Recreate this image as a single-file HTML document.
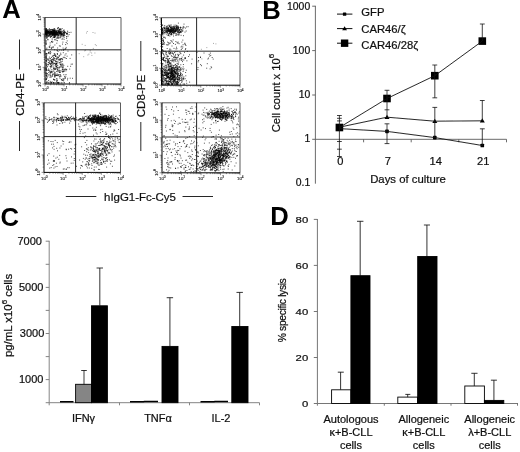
<!DOCTYPE html>
<html><head><meta charset="utf-8"><title>Figure</title>
<style>html,body{margin:0;padding:0;background:#fff;}svg{display:block;}</style></head>
<body>
<svg width="520" height="452" viewBox="0 0 520 452" font-family="'Liberation Sans', sans-serif">
<defs><filter id="soft" x="0" y="0" width="520" height="452" filterUnits="userSpaceOnUse"><feGaussianBlur stdDeviation="0.45"/></filter><filter id="soft2" x="0" y="0" width="520" height="452" filterUnits="userSpaceOnUse"><feGaussianBlur stdDeviation="0.22"/></filter></defs>
<rect width="520" height="452" fill="#fff"/>
<style>text{stroke:#111;stroke-width:0.22px;}text.pl{stroke:none;}text.tk{stroke-width:0.1px;}</style>
<g filter="url(#soft2)"><g stroke="#5a5a5a" stroke-width="0.9" fill="none">
<path d="M315.4 5.8V183.7"/>
<path d="M315.4 6.2h-3.2M315.4 50.6h-3.2M315.4 95.0h-3.2M315.4 139.3h-3.2"/>
<path d="M315.4 139.3H506.5"/>
<path d="M363.6 139.3v3M411.2 139.3v3M458.8 139.3v3M506.5 139.3v3"/>
</g>
<g stroke="#777" stroke-width="0.9" fill="none">
<path d="M49.2 240.8V402.7H259.5"/>
<path d="M49.2 402.7h-3.5M49.2 379.6h-3.5M49.2 356.6h-3.5M49.2 333.5h-3.5M49.2 310.4h-3.5M49.2 287.4h-3.5M49.2 264.3h-3.5M49.2 241.2h-3.5M49.2 402.7v2.6M119.5 402.7v2.6M189.5 402.7v2.6M259.5 402.7v2.6"/>
</g>
<g stroke="#666" stroke-width="0.9" fill="none">
<path d="M317.4 219.0V403.5H518"/>
<path d="M317.4 403.5h-3.6M317.4 357.5h-3.6M317.4 311.5h-3.6M317.4 265.4h-3.6M317.4 219.4h-3.6M317.4 403.5v2.2M384.3 403.5v2.2M451.0 403.5v2.2M517.5 403.5v2.2"/>
</g></g>
<g filter="url(#soft)">
<path d="M54.0 31.8h1.0M55.9 31.5h1.0M52.2 32.9h1.0M48.2 30.9h1.0M51.0 34.2h1.0M47.6 32.8h1.0M54.4 33.5h1.0M62.7 32.6h1.0M50.8 31.5h1.0M50.0 31.1h1.0M57.2 32.5h1.0M56.3 31.9h1.0M54.7 33.5h1.0M48.0 33.0h1.0M53.8 30.3h1.0M58.5 33.1h1.0M45.6 30.3h1.0M51.0 31.8h1.0M45.6 32.4h1.0M45.6 28.8h1.0M45.6 33.2h1.0M52.5 33.3h1.0M45.8 32.7h1.0M55.8 32.2h1.0M55.0 32.3h1.0M52.8 31.0h1.0M45.6 32.5h1.0M50.5 31.9h1.0M53.7 33.2h1.0M54.7 30.6h1.0M45.6 33.5h1.0M50.9 33.3h1.0M47.6 32.7h1.0M48.7 32.1h1.0M60.9 34.1h1.0M48.8 29.7h1.0M53.8 33.9h1.0M59.7 33.5h1.0M50.2 33.6h1.0M53.3 33.8h1.0M54.7 31.7h1.0M54.4 32.5h1.0M46.0 34.3h1.0M54.5 33.9h1.0M62.8 33.4h1.0M45.6 30.0h1.0M59.6 34.1h1.0M54.8 35.3h1.0M49.8 35.0h1.0M67.0 33.5h1.0M59.0 29.9h1.0M46.2 34.9h1.0M54.5 32.7h1.0M57.7 27.9h1.0M52.8 33.8h1.0M58.4 30.0h1.0M53.6 30.4h1.0M58.3 31.7h1.0M63.4 35.5h1.0M49.6 32.3h1.0M55.3 33.5h1.0M51.0 36.5h1.0M54.8 36.2h1.0M46.3 32.8h1.0M50.2 32.5h1.0M52.7 30.5h1.0M59.8 31.6h1.0M61.4 33.9h1.0M45.6 33.8h1.0M48.8 33.2h1.0M58.2 35.0h1.0M45.6 31.5h1.0M51.0 32.9h1.0M53.4 34.5h1.0M62.2 34.2h1.0M58.5 35.1h1.0M51.9 33.8h1.0M51.6 32.4h1.0M52.4 33.7h1.0M63.9 31.0h1.0M51.2 29.7h1.0M52.0 34.2h1.0M56.3 32.9h1.0M53.2 33.6h1.0M52.7 29.6h1.0M46.8 32.3h1.0M53.9 31.8h1.0M51.1 31.3h1.0M61.6 28.5h1.0M58.2 32.3h1.0M53.8 34.8h1.0M58.3 33.8h1.0M51.8 31.8h1.0M60.8 33.0h1.0M54.0 34.5h1.0M57.8 27.5h1.0M45.6 32.8h1.0M56.3 34.1h1.0M45.6 34.4h1.0M45.6 36.4h1.0M52.0 35.3h1.0M48.2 33.6h1.0M55.1 33.6h1.0M68.6 34.6h1.0M48.6 31.9h1.0M49.9 32.9h1.0M55.3 34.8h1.0M57.2 36.9h1.0M52.9 32.7h1.0M52.7 32.9h1.0M58.6 33.4h1.0M57.4 35.7h1.0M47.3 32.9h1.0M53.5 35.9h1.0M54.2 31.1h1.0M47.1 32.6h1.0M55.7 32.6h1.0M48.4 34.6h1.0M60.3 35.1h1.0M55.3 30.0h1.0M54.6 31.2h1.0M50.2 33.7h1.0M53.2 31.7h1.0M45.6 30.0h1.0M46.6 35.1h1.0M56.4 34.0h1.0M45.6 34.0h1.0M59.5 32.0h1.0M45.6 35.1h1.0M58.9 32.5h1.0M48.5 35.2h1.0M59.1 31.2h1.0M54.9 31.3h1.0M45.6 33.4h1.0M62.1 31.6h1.0M63.4 34.4h1.0M53.6 33.5h1.0M52.2 31.2h1.0M53.0 33.1h1.0M47.7 32.3h1.0M61.1 34.8h1.0M50.5 31.7h1.0M53.7 32.1h1.0M48.8 35.4h1.0M49.9 37.5h1.0M45.7 37.0h1.0M62.2 33.1h1.0M53.0 33.4h1.0M60.3 36.1h1.0M54.1 32.8h1.0M49.5 31.0h1.0M51.9 33.2h1.0M50.4 33.9h1.0M54.1 31.3h1.0M51.6 29.7h1.0M52.1 30.1h1.0M45.6 34.3h1.0M48.8 31.5h1.0M64.8 32.7h1.0M49.6 33.4h1.0M47.1 34.2h1.0M56.2 32.3h1.0M63.1 34.0h1.0M45.6 31.2h1.0M52.6 32.3h1.0M49.9 31.0h1.0M45.6 35.3h1.0M58.8 32.9h1.0M53.8 31.5h1.0M54.5 32.3h1.0M49.1 32.6h1.0M57.0 34.4h1.0M50.5 29.8h1.0M53.1 30.9h1.0M46.8 32.2h1.0M46.1 38.1h1.0M62.7 34.9h1.0M50.7 32.8h1.0M55.9 34.4h1.0M53.8 37.1h1.0M51.1 32.5h1.0M50.7 32.3h1.0M58.1 35.4h1.0M52.0 34.0h1.0M53.0 34.3h1.0M54.1 32.0h1.0M61.6 36.8h1.0M58.4 36.4h1.0M56.5 34.1h1.0M50.3 34.4h1.0M45.6 28.9h1.0M60.2 34.3h1.0M60.3 32.6h1.0M53.1 33.9h1.0M57.5 34.4h1.0M59.1 32.3h1.0M59.4 29.6h1.0M60.0 33.7h1.0M51.0 31.5h1.0M63.8 32.3h1.0M45.9 31.8h1.0M59.6 32.3h1.0M57.2 28.4h1.0M59.7 35.4h1.0M66.2 33.5h1.0M63.6 35.2h1.0M46.6 37.0h1.0M45.6 33.0h1.0M59.3 29.4h1.0M47.4 31.2h1.0M53.9 30.6h1.0M59.5 32.0h1.0M45.6 33.2h1.0M45.6 29.0h1.0M55.7 33.7h1.0M54.3 30.0h1.0M52.4 33.6h1.0M54.3 32.8h1.0M48.4 32.4h1.0M45.6 32.9h1.0M52.9 31.9h1.0M47.7 31.8h1.0M45.6 29.6h1.0M57.3 32.9h1.0M53.6 36.7h1.0M56.6 37.0h1.0M47.6 35.6h1.0M49.7 34.4h1.0M47.5 31.6h1.0M48.2 35.9h1.0M55.3 32.9h1.0M48.9 32.9h1.0M56.3 32.4h1.0M56.2 33.2h1.0M67.2 32.1h1.0M45.6 32.8h1.0M59.8 30.8h1.0M53.4 32.3h1.0M53.9 37.6h1.0M45.6 32.9h1.0M51.0 32.5h1.0M58.8 34.1h1.0M53.5 34.4h1.0M54.5 30.8h1.0M52.1 32.6h1.0M61.5 34.8h1.0M53.9 33.5h1.0M45.6 33.2h1.0M49.5 36.1h1.0M45.6 31.6h1.0M45.6 33.2h1.0M50.6 32.0h1.0M62.7 36.0h1.0M54.3 29.1h1.0M46.4 31.7h1.0M47.9 31.9h1.0M61.3 34.3h1.0M55.0 34.2h1.0M54.3 35.8h1.0M53.7 29.9h1.0M54.2 34.5h1.0M59.2 32.4h1.0M57.6 31.7h1.0M55.4 34.1h1.0M47.2 31.2h1.0M57.3 28.8h1.0M49.6 32.3h1.0M61.1 30.0h1.0M45.7 31.7h1.0M53.1 33.7h1.0M54.0 33.6h1.0M45.6 36.2h1.0M65.2 32.6h1.0M63.5 29.9h1.0M51.0 31.5h1.0M59.0 31.2h1.0M56.5 30.6h1.0M45.6 33.9h1.0M55.6 31.7h1.0M53.6 29.0h1.0M54.5 34.4h1.0M47.0 32.8h1.0M52.2 33.7h1.0M52.8 33.2h1.0M61.7 34.3h1.0M56.2 33.1h1.0M54.0 35.5h1.0M63.9 33.8h1.0M50.4 33.8h1.0M51.5 33.8h1.0M45.6 30.1h1.0M64.2 32.7h1.0M60.3 32.5h1.0M60.0 33.4h1.0M58.3 30.3h1.0M54.7 36.3h1.0M55.4 33.2h1.0M52.4 30.6h1.0M52.7 29.6h1.0M54.4 32.4h1.0M63.8 32.8h1.0M57.6 31.6h1.0M53.6 33.2h1.0M50.2 31.7h1.0M49.9 34.1h1.0M64.4 31.6h1.0M57.3 32.9h1.0M54.4 35.0h1.0M51.7 38.1h1.0M46.8 31.0h1.0M53.6 32.1h1.0M59.7 31.3h1.0M51.4 34.6h1.0M52.5 30.7h1.0M52.6 32.0h1.0M54.7 32.9h1.0M45.6 31.0h1.0M52.5 31.1h1.0M48.4 32.0h1.0M59.7 28.8h1.0M49.0 30.1h1.0M57.8 32.2h1.0M63.9 33.3h1.0M52.0 32.6h1.0M50.1 29.5h1.0M55.2 32.1h1.0M54.0 34.6h1.0M47.5 34.1h1.0M57.0 32.8h1.0M67.1 31.2h1.0M52.3 34.3h1.0M52.7 31.8h1.0M47.2 30.7h1.0M56.1 31.4h1.0M45.9 35.9h1.0M46.8 33.4h1.0M62.3 35.3h1.0M48.1 32.0h1.0M61.0 34.9h1.0M63.9 31.8h1.0M55.7 32.7h1.0M57.6 38.0h1.0M66.7 34.5h1.0M52.7 32.0h1.0M50.1 32.8h1.0M45.6 33.7h1.0M54.3 35.4h1.0M63.6 32.0h1.0M60.2 29.5h1.0M47.9 32.4h1.0M48.4 33.0h1.0M50.7 33.2h1.0M55.9 35.6h1.0M52.7 33.6h1.0M55.4 34.6h1.0M55.9 30.8h1.0M52.1 34.7h1.0M53.7 37.2h1.0M55.3 34.5h1.0M53.5 33.5h1.0M57.3 33.3h1.0M66.2 36.6h1.0M57.8 31.1h1.0M54.4 32.8h1.0M45.6 33.9h1.0M56.5 34.5h1.0M45.6 32.1h1.0M45.6 33.6h1.0M59.6 32.4h1.0M58.6 33.2h1.0M53.0 32.7h1.0M45.6 30.7h1.0M51.6 33.0h1.0M49.6 34.8h1.0M58.1 31.1h1.0M68.7 32.5h1.0M55.4 34.3h1.0M48.9 30.9h1.0M46.4 33.4h1.0M53.6 30.9h1.0M52.9 35.3h1.0M46.5 37.6h1.0M54.8 37.0h1.0M46.5 32.6h1.0M61.2 34.5h1.0M60.9 33.2h1.0M61.1 33.2h1.0M50.9 36.1h1.0M57.3 30.4h1.0M53.1 35.1h1.0M51.5 32.9h1.0M51.8 35.8h1.0M45.6 33.4h1.0M45.6 31.7h1.0M59.2 33.6h1.0M52.8 34.5h1.0M55.4 33.1h1.0M60.5 34.0h1.0M45.6 32.0h1.0M48.9 28.7h1.0M55.1 34.8h1.0M56.5 34.4h1.0M51.5 33.3h1.0M60.7 33.1h1.0M55.4 35.1h1.0M46.1 32.1h1.0M48.0 31.6h1.0M59.2 32.6h1.0M57.0 35.4h1.0M45.6 30.2h1.0M62.8 35.4h1.0M57.9 31.7h1.0M62.7 30.8h1.0M51.5 35.5h1.0M52.1 32.8h1.0M46.7 30.4h1.0M70.5 32.3h1.0M52.9 34.9h1.0M64.3 35.4h1.0M49.8 32.1h1.0M55.1 33.8h1.0M45.6 34.4h1.0M51.5 31.7h1.0M60.4 33.7h1.0M45.9 32.9h1.0M61.0 31.9h1.0M56.2 32.0h1.0M47.2 33.1h1.0M50.7 33.1h1.0M51.0 31.9h1.0M53.7 32.1h1.0M50.5 35.2h1.0M48.6 33.4h1.0M52.0 34.8h1.0M47.3 35.4h1.0M45.6 34.2h1.0M53.7 37.5h1.0M59.7 31.3h1.0M45.6 34.6h1.0M54.0 32.4h1.0M49.8 36.7h1.0M47.6 36.4h1.0M59.5 29.1h1.0M50.6 31.1h1.0M63.7 34.3h1.0M48.9 34.6h1.0M56.5 34.5h1.0M52.5 32.9h1.0M49.1 33.9h1.0M57.8 34.3h1.0M53.0 32.8h1.0M57.9 35.1h1.0M53.7 28.5h1.0M46.9 34.3h1.0M53.3 30.9h1.0M54.3 34.9h1.0M60.2 32.5h1.0M48.1 31.2h1.0M53.7 33.7h1.0M45.6 31.2h1.0M58.2 31.2h1.0M47.0 29.9h1.0M45.6 32.9h1.0M53.6 34.0h1.0M61.2 35.0h1.0M45.6 32.7h1.0M46.9 35.1h1.0M49.2 33.0h1.0M46.7 32.8h1.0M56.5 34.1h1.0M48.8 35.1h1.0M49.3 32.3h1.0M57.8 32.5h1.0M49.1 32.7h1.0M56.8 33.2h1.0M47.7 31.2h1.0M46.1 35.1h1.0M45.6 32.2h1.0M66.1 33.9h1.0M51.9 31.3h1.0M55.6 33.7h1.0M53.8 33.8h1.0M55.0 32.2h1.0M54.3 37.0h1.0M66.4 33.7h1.0M47.2 36.6h1.0M45.6 34.9h1.0M47.4 31.7h1.0M45.6 32.2h1.0M58.9 33.9h1.0M59.3 33.1h1.0M47.8 33.1h1.0M45.6 32.4h1.0M51.7 29.4h1.0M63.0 32.5h1.0M45.6 28.6h1.0M57.4 33.7h1.0M47.0 31.5h1.0M60.8 31.6h1.0M47.0 32.6h1.0M52.1 33.5h1.0M45.6 30.1h1.0M47.6 29.5h1.0M63.0 30.9h1.0M59.3 28.9h1.0M51.4 31.1h1.0M48.3 36.2h1.0M45.6 30.9h1.0M51.4 34.3h1.0M53.8 30.3h1.0M53.5 33.6h1.0M53.4 32.4h1.0M46.7 32.9h1.0M53.6 34.1h1.0M53.7 36.5h1.0M62.4 33.4h1.0M66.1 33.2h1.0M53.1 31.1h1.0M49.0 34.2h1.0M53.6 32.5h1.0M60.0 64.7h1.0M54.7 76.0h1.0M65.4 70.9h1.0M45.6 70.8h1.0M53.2 74.1h1.0M60.3 62.2h1.0M52.9 64.0h1.0M53.4 63.6h1.0M46.7 53.8h1.0M55.7 66.6h1.0M69.6 58.4h1.0M61.9 69.0h1.0M48.3 72.5h1.0M49.8 53.8h1.0M52.6 59.9h1.0M61.0 58.6h1.0M50.1 75.5h1.0M50.9 82.9h1.0M60.3 76.5h1.0M60.2 64.5h1.0M52.8 82.7h1.0M48.3 52.9h1.0M45.7 82.9h1.0M50.8 61.4h1.0M59.5 82.9h1.0M51.2 82.9h1.0M57.9 57.7h1.0M66.2 69.7h1.0M62.0 65.9h1.0M48.1 69.0h1.0M60.2 53.2h1.0M61.9 61.2h1.0M50.5 72.7h1.0M49.3 70.2h1.0M54.3 80.0h1.0M45.6 68.8h1.0M63.8 82.9h1.0M45.6 60.8h1.0M48.4 70.6h1.0M53.6 55.5h1.0M56.0 81.3h1.0M56.6 58.6h1.0M53.7 73.3h1.0M61.8 67.4h1.0M45.6 57.6h1.0M55.0 64.5h1.0M50.7 62.9h1.0M55.8 63.1h1.0M56.3 75.5h1.0M49.5 74.5h1.0M51.2 62.2h1.0M59.8 58.9h1.0M57.1 70.8h1.0M50.9 67.0h1.0M67.2 78.3h1.0M68.9 82.9h1.0M46.2 76.4h1.0M56.8 67.7h1.0M70.1 66.3h1.0M59.7 59.4h1.0M56.3 58.9h1.0M53.8 58.0h1.0M51.8 64.0h1.0M53.7 63.7h1.0M51.7 75.4h1.0M59.5 64.0h1.0M52.6 66.0h1.0M52.4 55.8h1.0M47.8 82.9h1.0M54.7 73.1h1.0M49.6 82.9h1.0M53.9 76.0h1.0M61.3 82.9h1.0M57.2 65.5h1.0M58.0 75.2h1.0M57.1 82.9h1.0M55.4 55.8h1.0M54.2 79.8h1.0M53.2 82.9h1.0M59.6 72.2h1.0M48.5 75.7h1.0M63.0 80.8h1.0M55.2 61.3h1.0M50.5 72.2h1.0M52.1 59.1h1.0M50.9 61.1h1.0M56.0 61.7h1.0M50.7 66.5h1.0M61.9 69.5h1.0M50.3 72.6h1.0M45.6 53.5h1.0M50.6 82.9h1.0M45.6 79.8h1.0M54.8 75.4h1.0M61.4 64.3h1.0M58.9 67.1h1.0M47.0 73.6h1.0M50.4 72.2h1.0M56.9 75.6h1.0M55.0 82.9h1.0M69.7 78.2h1.0M62.8 71.8h1.0M55.8 66.9h1.0M57.1 82.1h1.0M58.7 55.9h1.0M51.3 69.7h1.0M48.6 82.9h1.0M55.3 66.0h1.0M49.3 63.7h1.0M54.6 69.2h1.0M55.6 63.4h1.0M69.0 82.9h1.0M49.9 58.7h1.0M54.3 77.0h1.0M54.0 55.1h1.0M57.6 74.9h1.0M61.3 66.9h1.0M50.1 67.9h1.0M45.6 57.0h1.0M49.4 63.4h1.0M58.2 82.9h1.0M55.3 56.5h1.0M48.9 57.1h1.0M52.8 82.8h1.0M55.2 69.2h1.0M58.0 82.9h1.0M51.4 71.3h1.0M53.5 58.9h1.0M45.6 67.3h1.0M48.1 80.6h1.0M64.7 77.7h1.0M45.6 68.0h1.0M53.0 68.5h1.0M56.3 66.8h1.0M52.8 62.1h1.0M50.2 82.9h1.0M54.6 68.1h1.0M55.0 56.4h1.0M54.5 63.1h1.0M45.6 75.5h1.0M54.1 74.6h1.0M49.9 66.6h1.0M51.7 61.1h1.0M56.4 68.2h1.0M60.4 54.6h1.0M52.0 76.2h1.0M60.5 63.1h1.0M62.0 71.9h1.0M61.8 80.5h1.0M63.3 74.7h1.0M54.1 68.2h1.0M54.0 82.9h1.0M60.0 74.9h1.0M46.8 64.4h1.0M56.3 75.5h1.0M51.8 72.2h1.0M52.8 59.2h1.0M45.6 68.8h1.0M49.7 66.3h1.0M60.3 66.2h1.0M60.9 65.1h1.0M54.5 63.5h1.0M50.0 64.4h1.0M57.4 67.6h1.0M53.5 69.0h1.0M58.6 56.3h1.0M65.5 74.5h1.0M54.8 55.5h1.0M46.0 65.7h1.0M49.8 81.4h1.0M46.3 60.9h1.0M47.8 62.7h1.0M62.8 79.0h1.0M56.4 64.1h1.0M45.9 64.9h1.0M58.9 70.3h1.0M62.6 78.8h1.0M50.9 59.5h1.0M53.0 57.7h1.0M56.7 56.9h1.0M58.8 59.2h1.0M62.1 59.4h1.0M62.3 71.1h1.0M62.1 58.9h1.0M63.2 69.3h1.0M59.0 72.1h1.0M45.8 60.5h1.0M54.2 69.3h1.0M56.9 82.9h1.0M52.7 71.3h1.0M60.5 61.5h1.0M52.8 67.3h1.0M49.4 58.6h1.0M63.7 70.8h1.0M59.0 76.8h1.0M56.3 59.6h1.0M60.6 65.9h1.0M61.4 79.4h1.0M57.0 62.9h1.0M45.6 69.9h1.0M50.9 57.5h1.0M52.3 59.6h1.0M49.1 62.8h1.0M56.2 82.9h1.0M62.2 63.9h1.0M52.1 62.7h1.0M48.2 62.4h1.0M67.2 66.3h1.0M52.3 74.6h1.0M47.6 69.9h1.0M56.4 82.9h1.0M57.6 70.1h1.0M50.8 82.5h1.0M59.7 70.8h1.0M52.1 74.1h1.0M49.5 53.6h1.0M56.1 66.7h1.0M59.6 67.3h1.0M51.2 65.6h1.0M54.4 76.8h1.0M71.9 64.1h1.0M50.7 63.6h1.0M63.3 65.4h1.0M54.7 65.7h1.0M54.2 72.1h1.0M59.3 55.3h1.0M60.4 58.7h1.0M62.6 70.9h1.0M57.0 69.5h1.0M51.4 64.2h1.0M51.8 62.3h1.0M58.1 59.7h1.0M58.5 67.4h1.0M63.4 79.8h1.0M57.5 57.4h1.0M61.4 82.9h1.0M64.1 76.4h1.0M56.0 63.5h1.0M46.1 75.8h1.0M47.9 53.3h1.0M64.5 55.1h1.0M49.9 63.9h1.0M62.4 64.7h1.0M58.5 62.8h1.0M65.3 69.0h1.0M54.4 73.0h1.0M53.8 53.8h1.0M55.5 61.4h1.0M56.1 63.9h1.0M51.8 56.4h1.0M54.8 54.3h1.0M64.7 57.9h1.0M45.6 67.9h1.0M56.6 73.9h1.0M49.6 73.6h1.0M56.1 58.1h1.0M60.0 60.1h1.0M54.7 58.8h1.0M59.6 72.5h1.0M61.6 80.4h1.0M51.4 63.2h1.0M58.7 60.2h1.0M56.1 71.4h1.0M45.6 78.3h1.0M50.5 71.4h1.0M56.3 78.5h1.0M64.3 69.3h1.0M56.7 80.3h1.0M56.5 80.5h1.0M46.5 67.0h1.0M63.6 82.4h1.0M65.8 69.6h1.0M55.2 68.9h1.0M53.7 58.8h1.0M45.6 65.1h1.0M60.3 75.8h1.0M71.2 54.9h1.0M59.3 74.5h1.0M62.6 71.5h1.0M58.3 70.8h1.0M63.0 67.0h1.0M47.6 74.5h1.0M53.7 60.4h1.0M56.7 68.9h1.0M57.5 74.7h1.0M57.3 61.4h1.0M50.4 76.7h1.0M55.4 74.9h1.0M50.7 65.6h1.0M47.2 76.1h1.0M47.4 58.7h1.0M52.1 61.8h1.0M45.6 82.9h1.0M46.9 59.7h1.0M45.6 60.9h1.0M56.1 65.2h1.0M57.4 57.8h1.0M67.0 79.9h1.0M46.0 82.9h1.0M50.9 61.0h1.0M53.7 79.7h1.0M53.0 79.1h1.0M65.3 76.2h1.0M53.0 79.6h1.0M48.1 59.3h1.0M47.1 66.3h1.0M57.0 54.2h1.0M56.8 53.8h1.0M46.8 77.8h1.0M49.1 61.3h1.0M58.2 82.9h1.0M58.5 68.7h1.0M51.1 61.6h1.0M58.7 76.0h1.0M58.4 82.9h1.0M45.6 72.9h1.0M53.1 55.8h1.0M57.5 71.7h1.0M51.6 81.8h1.0M45.6 63.1h1.0M53.3 60.3h1.0M59.5 78.2h1.0M64.5 69.4h1.0M45.6 57.0h1.0M70.7 64.2h1.0M48.2 60.4h1.0M60.7 71.0h1.0M62.4 69.1h1.0M60.9 79.5h1.0M55.9 75.1h1.0M48.0 52.4h1.0M58.8 72.1h1.0M50.7 77.0h1.0M45.6 72.6h1.0M72.0 78.3h1.0M59.2 62.5h1.0M65.9 58.5h1.0M49.5 77.3h1.0M63.8 57.3h1.0M64.3 78.3h1.0M54.9 60.8h1.0M47.8 64.9h1.0M53.9 54.0h1.0M45.6 54.7h1.0M45.6 56.4h1.0M55.6 64.4h1.0M49.1 71.7h1.0M54.3 75.5h1.0M66.6 56.2h1.0M62.8 57.3h1.0M54.7 74.8h1.0M62.3 67.3h1.0M50.3 52.6h1.0M53.0 82.9h1.0M60.5 59.4h1.0M47.6 70.5h1.0M53.3 70.0h1.0M47.1 82.1h1.0M55.7 63.4h1.0M64.8 78.1h1.0M50.5 60.6h1.0M56.4 79.2h1.0M49.6 60.4h1.0M48.1 64.4h1.0M47.6 82.9h1.0M63.7 71.2h1.0M69.2 69.1h1.0M57.9 82.9h1.0M50.7 71.6h1.0M59.2 59.8h1.0M45.6 66.2h1.0M45.6 31.9h1.0M46.2 81.8h1.0M46.2 55.4h1.0M45.6 41.0h1.0M46.1 70.3h1.0M45.6 73.5h1.0M45.6 62.9h1.0M46.0 79.2h1.0M45.6 32.1h1.0M45.9 57.1h1.0M46.0 69.3h1.0M45.6 79.3h1.0M45.6 63.6h1.0M46.0 61.3h1.0M45.8 49.1h1.0M46.1 59.6h1.0M45.6 58.6h1.0M45.9 78.6h1.0M46.0 74.1h1.0M45.6 69.0h1.0M45.6 79.7h1.0M45.6 30.8h1.0M45.6 70.9h1.0M45.6 53.4h1.0M45.6 69.9h1.0M45.6 43.9h1.0M45.9 53.6h1.0M45.6 74.0h1.0M45.7 29.0h1.0M45.6 43.6h1.0M45.6 54.8h1.0M45.9 75.5h1.0M45.6 42.4h1.0M45.7 73.9h1.0M45.6 40.9h1.0M45.7 44.3h1.0M46.1 58.6h1.0M45.6 64.3h1.0M45.6 77.2h1.0M65.3 48.5h1.0M51.5 47.3h1.0M62.4 42.1h1.0M60.0 37.7h1.0M54.5 39.6h1.0M63.1 50.1h1.0M65.7 47.4h1.0M56.5 50.3h1.0M66.2 36.8h1.0M48.8 52.2h1.0M49.7 42.9h1.0M62.8 52.7h1.0M52.7 46.7h1.0M58.9 45.9h1.0M56.9 50.7h1.0M49.2 47.3h1.0M62.6 48.1h1.0M62.3 38.8h1.0M49.2 46.9h1.0M51.7 42.4h1.0M63.6 37.4h1.0M66.1 38.4h1.0M65.1 44.6h1.0M57.0 40.7h1.0M54.1 49.8h1.0M55.8 38.2h1.0M49.9 36.2h1.0M56.9 53.9h1.0M51.1 41.6h1.0M49.6 45.2h1.0M54.4 39.8h1.0M47.4 39.8h1.0M56.3 43.2h1.0M61.3 50.2h1.0M60.3 36.7h1.0M67.5 51.1h1.0M65.5 53.8h1.0M59.9 46.1h1.0M65.7 42.5h1.0M55.8 40.2h1.0M63.6 39.3h1.0M52.3 41.8h1.0M57.6 51.3h1.0M67.6 36.1h1.0M59.2 50.1h1.0M57.1 48.0h1.0M63.3 36.3h1.0M52.9 37.3h1.0M64.3 49.2h1.0M46.4 48.1h1.0M51.2 41.6h1.0M49.9 51.5h1.0M51.7 39.8h1.0M66.8 43.7h1.0M46.5 38.1h1.0M52.6 47.6h1.0M58.6 37.6h1.0M61.5 39.2h1.0M63.0 49.8h1.0M54.4 45.0h1.0M50.8 47.9h1.0M64.8 49.2h1.0M48.7 46.9h1.0M47.4 39.6h1.0M51.1 48.6h1.0M56.8 38.1h1.0M66.7 40.9h1.0M62.0 44.1h1.0M58.4 38.1h1.0M57.5 37.9h1.0" stroke="#000" stroke-opacity="0.68" stroke-width="1" fill="none"/>
<path d="M89.7 52.1h1.0M91.4 55.4h1.0M84.7 45.4h1.0M85.0 50.2h1.0M81.7 44.3h1.0M87.4 55.0h1.0M88.4 54.1h1.0M94.8 44.6h1.0M78.7 53.7h1.0M94.4 53.0h1.0M95.8 45.6h1.0M84.2 50.8h1.0M91.1 53.0h1.0M92.8 48.4h1.0M89.7 50.6h1.0M83.2 56.7h1.0M94.5 33.1h1.0M92.5 32.5h1.0M86.0 33.0h1.0M86.8 31.5h1.0" stroke="#000" stroke-opacity="0.35" stroke-width="1" fill="none"/>
<text class="tk" x="45.3" y="91.2" font-size="4.3" text-anchor="middle" fill="#111">10<tspan dy="-1.8" font-size="3.2">0</tspan></text>
<text class="tk" transform="translate(41.0 83.7) rotate(-90)" font-size="4.3" text-anchor="middle" fill="#111">10<tspan dy="-1.8" font-size="3.2">0</tspan></text>
<text class="tk" x="64.3" y="91.2" font-size="4.3" text-anchor="middle" fill="#111">10<tspan dy="-1.8" font-size="3.2">1</tspan></text>
<text class="tk" transform="translate(41.0 67.1) rotate(-90)" font-size="4.3" text-anchor="middle" fill="#111">10<tspan dy="-1.8" font-size="3.2">1</tspan></text>
<text class="tk" x="83.3" y="91.2" font-size="4.3" text-anchor="middle" fill="#111">10<tspan dy="-1.8" font-size="3.2">2</tspan></text>
<text class="tk" transform="translate(41.0 50.5) rotate(-90)" font-size="4.3" text-anchor="middle" fill="#111">10<tspan dy="-1.8" font-size="3.2">2</tspan></text>
<text class="tk" x="102.3" y="91.2" font-size="4.3" text-anchor="middle" fill="#111">10<tspan dy="-1.8" font-size="3.2">3</tspan></text>
<text class="tk" transform="translate(41.0 33.8) rotate(-90)" font-size="4.3" text-anchor="middle" fill="#111">10<tspan dy="-1.8" font-size="3.2">3</tspan></text>
<text class="tk" x="121.3" y="91.2" font-size="4.3" text-anchor="middle" fill="#111">10<tspan dy="-1.8" font-size="3.2">4</tspan></text>
<text class="tk" transform="translate(41.0 17.2) rotate(-90)" font-size="4.3" text-anchor="middle" fill="#111">10<tspan dy="-1.8" font-size="3.2">4</tspan></text>
<path d="M175.3 31.3h1.0M170.0 30.1h1.0M165.6 28.9h1.0M177.7 27.5h1.0M181.5 30.4h1.0M166.9 30.8h1.0M170.4 29.4h1.0M177.8 28.2h1.0M173.8 31.2h1.0M183.0 35.7h1.0M168.9 29.3h1.0M175.0 30.8h1.0M165.1 30.9h1.0M183.5 24.1h1.0M168.0 30.3h1.0M162.1 28.4h1.0M171.3 33.2h1.0M171.2 29.4h1.0M182.5 28.2h1.0M170.1 29.5h1.0M171.9 30.4h1.0M175.3 28.7h1.0M180.7 29.9h1.0M171.7 26.9h1.0M177.7 29.5h1.0M174.8 31.8h1.0M170.4 34.5h1.0M172.4 31.6h1.0M172.2 30.6h1.0M167.0 32.7h1.0M178.7 32.3h1.0M164.4 33.8h1.0M178.4 32.5h1.0M177.2 29.7h1.0M171.5 30.6h1.0M167.8 30.4h1.0M170.8 30.7h1.0M174.6 30.5h1.0M176.1 28.2h1.0M173.6 25.2h1.0M177.5 28.5h1.0M168.9 25.3h1.0M173.3 30.2h1.0M163.4 30.0h1.0M176.2 26.1h1.0M172.8 31.6h1.0M169.7 32.0h1.0M178.4 30.2h1.0M175.8 33.8h1.0M162.1 34.3h1.0M172.2 27.2h1.0M164.0 32.4h1.0M177.9 31.0h1.0M185.7 31.0h1.0M169.1 32.1h1.0M172.4 28.3h1.0M170.6 28.6h1.0M173.9 28.1h1.0M175.5 28.3h1.0M179.1 29.8h1.0M166.6 26.7h1.0M180.6 27.6h1.0M166.9 31.3h1.0M173.5 29.8h1.0M178.4 30.9h1.0M175.9 25.7h1.0M166.8 28.2h1.0M168.1 28.7h1.0M169.5 30.1h1.0M171.7 28.7h1.0M178.3 32.1h1.0M164.9 29.9h1.0M174.6 30.0h1.0M175.4 30.0h1.0M175.1 31.6h1.0M174.6 28.9h1.0M180.4 32.6h1.0M174.7 31.1h1.0M176.7 30.4h1.0M175.1 30.1h1.0M181.9 31.2h1.0M162.1 32.3h1.0M179.1 32.2h1.0M170.6 30.9h1.0M170.5 32.0h1.0M166.7 30.3h1.0M162.1 32.9h1.0M169.9 29.9h1.0M168.2 25.2h1.0M174.7 33.1h1.0M163.9 30.2h1.0M179.9 27.3h1.0M173.5 29.5h1.0M170.6 28.0h1.0M168.1 34.8h1.0M167.7 31.1h1.0M165.8 26.4h1.0M169.0 31.3h1.0M172.0 29.1h1.0M171.0 34.4h1.0M164.2 27.6h1.0M170.5 24.8h1.0M167.1 30.2h1.0M172.9 29.2h1.0M182.3 29.0h1.0M175.4 25.1h1.0M170.3 31.0h1.0M163.1 33.8h1.0M164.2 25.6h1.0M162.7 32.7h1.0M176.0 28.7h1.0M167.8 35.4h1.0M172.3 31.0h1.0M168.6 29.6h1.0M172.5 32.5h1.0M179.7 31.2h1.0M168.2 28.6h1.0M170.1 31.6h1.0M167.6 28.8h1.0M176.8 25.9h1.0M166.4 34.7h1.0M165.8 29.2h1.0M164.4 28.6h1.0M164.3 30.8h1.0M174.6 26.4h1.0M186.1 26.9h1.0M166.5 28.9h1.0M177.2 28.8h1.0M173.4 30.2h1.0M165.9 32.6h1.0M170.5 28.9h1.0M170.7 31.1h1.0M168.2 31.4h1.0M182.6 27.5h1.0M162.1 30.5h1.0M174.1 27.8h1.0M173.8 32.4h1.0M168.8 31.0h1.0M172.8 30.0h1.0M176.8 26.9h1.0M172.8 30.3h1.0M174.3 28.2h1.0M175.8 31.6h1.0M162.1 29.7h1.0M180.1 28.1h1.0M184.5 32.1h1.0M177.4 31.7h1.0M177.6 28.6h1.0M164.3 32.7h1.0M171.3 29.3h1.0M167.5 29.3h1.0M168.8 30.3h1.0M177.3 28.3h1.0M167.6 29.0h1.0M171.3 29.6h1.0M162.1 33.5h1.0M171.1 33.4h1.0M172.5 29.4h1.0M168.1 33.7h1.0M168.0 29.9h1.0M182.4 30.9h1.0M165.3 32.0h1.0M166.2 30.7h1.0M167.6 35.6h1.0M178.6 30.6h1.0M183.6 27.2h1.0M173.8 33.0h1.0M168.1 29.1h1.0M169.6 29.3h1.0M177.9 23.1h1.0M167.0 32.3h1.0M180.0 31.9h1.0M179.8 31.8h1.0M172.4 32.3h1.0M175.6 33.9h1.0M176.1 29.9h1.0M180.5 32.2h1.0M166.2 28.3h1.0M178.5 29.2h1.0M169.9 32.4h1.0M167.8 30.9h1.0M172.6 26.9h1.0M170.8 30.8h1.0M166.6 29.6h1.0M163.2 28.1h1.0M166.8 31.0h1.0M180.0 29.1h1.0M182.8 26.4h1.0M175.6 27.4h1.0M178.5 34.1h1.0M169.2 26.5h1.0M171.6 30.5h1.0M173.6 31.4h1.0M166.1 31.5h1.0M166.6 27.2h1.0M172.5 29.3h1.0M170.2 30.3h1.0M166.2 31.8h1.0M174.1 28.5h1.0M170.6 27.3h1.0M177.6 32.3h1.0M172.0 32.5h1.0M170.3 30.9h1.0M172.7 28.6h1.0M171.1 30.9h1.0M168.3 30.3h1.0M169.8 31.9h1.0M176.1 27.1h1.0M175.6 30.3h1.0M179.1 29.6h1.0M162.7 27.4h1.0M169.8 30.5h1.0M169.7 30.1h1.0M172.9 29.1h1.0M169.5 30.9h1.0M169.2 26.7h1.0M176.3 29.9h1.0M173.0 31.0h1.0M165.6 30.7h1.0M179.3 32.5h1.0M177.5 27.2h1.0M168.8 26.5h1.0M176.6 30.5h1.0M168.0 31.0h1.0M178.2 34.9h1.0M170.8 31.4h1.0M167.6 28.0h1.0M169.9 31.9h1.0M167.8 28.1h1.0M173.1 26.6h1.0M173.0 36.0h1.0M172.2 30.7h1.0M168.9 31.6h1.0M162.1 31.3h1.0M172.5 34.2h1.0M162.1 30.7h1.0M173.3 32.8h1.0M178.2 27.6h1.0M173.5 26.8h1.0M169.9 33.3h1.0M171.0 33.4h1.0M171.3 31.2h1.0M169.0 30.5h1.0M168.8 30.4h1.0M166.9 28.4h1.0M178.5 33.5h1.0M171.9 31.5h1.0M177.3 31.2h1.0M170.6 30.9h1.0M172.4 32.4h1.0M171.1 31.2h1.0M174.5 31.7h1.0M176.5 27.3h1.0M173.3 31.2h1.0M168.3 35.0h1.0M167.7 28.8h1.0M181.1 29.7h1.0M170.5 32.1h1.0M170.4 32.2h1.0M180.1 31.4h1.0M178.0 26.3h1.0M174.9 31.2h1.0M169.8 27.3h1.0M184.9 28.1h1.0M174.2 31.3h1.0M175.0 29.3h1.0M171.1 31.9h1.0M164.2 37.2h1.0M164.7 31.8h1.0M174.2 31.7h1.0M174.2 27.9h1.0M170.7 28.5h1.0M165.6 27.6h1.0M164.1 28.8h1.0M170.2 27.5h1.0M164.0 28.5h1.0M176.9 29.5h1.0M178.3 27.7h1.0M187.6 26.7h1.0M176.8 26.9h1.0M168.7 31.0h1.0M167.2 30.1h1.0M162.1 32.4h1.0M168.7 32.4h1.0M171.0 29.2h1.0M177.3 31.5h1.0M175.4 26.7h1.0M175.2 35.3h1.0M173.2 32.7h1.0M175.6 29.5h1.0M180.0 27.3h1.0M166.1 30.9h1.0M169.5 25.7h1.0M164.4 28.2h1.0M180.9 31.7h1.0M179.1 30.2h1.0M176.1 28.9h1.0M165.4 32.2h1.0M173.0 27.6h1.0M170.7 30.7h1.0M172.4 28.9h1.0M171.0 28.1h1.0M174.9 31.1h1.0M169.8 27.7h1.0M176.7 34.4h1.0M173.3 28.7h1.0M170.4 34.6h1.0M171.4 27.5h1.0M169.6 31.4h1.0M176.5 27.2h1.0M170.5 26.9h1.0M173.6 30.4h1.0M169.8 31.6h1.0M163.8 27.1h1.0M177.0 32.7h1.0M166.2 28.2h1.0M175.7 30.3h1.0M174.3 30.9h1.0M162.9 31.4h1.0M166.8 25.9h1.0M169.2 33.7h1.0M167.5 31.3h1.0M165.5 29.0h1.0M176.1 27.6h1.0M170.7 26.1h1.0M174.1 26.9h1.0M169.6 31.3h1.0M173.7 29.2h1.0M167.9 27.4h1.0M171.9 28.8h1.0M180.1 74.2h1.0M169.7 76.3h1.0M168.3 69.5h1.0M178.9 79.6h1.0M174.0 71.2h1.0M171.7 78.7h1.0M168.2 76.3h1.0M163.0 82.1h1.0M165.1 75.4h1.0M168.9 81.6h1.0M170.3 70.0h1.0M173.5 79.2h1.0M174.5 74.2h1.0M172.7 76.7h1.0M172.7 75.9h1.0M166.0 81.1h1.0M162.1 63.4h1.0M168.6 77.4h1.0M166.3 66.5h1.0M167.9 82.7h1.0M170.0 63.7h1.0M164.7 69.5h1.0M165.4 65.5h1.0M170.9 84.1h1.0M172.1 67.8h1.0M167.9 76.2h1.0M174.2 72.3h1.0M170.3 64.7h1.0M165.9 73.5h1.0M171.7 79.5h1.0M181.9 74.4h1.0M167.8 81.1h1.0M177.9 73.3h1.0M179.1 75.5h1.0M179.7 73.2h1.0M167.0 77.6h1.0M182.6 84.1h1.0M172.1 77.7h1.0M170.1 76.7h1.0M170.2 71.8h1.0M174.8 71.0h1.0M171.8 84.1h1.0M170.5 68.8h1.0M178.6 70.0h1.0M167.5 74.9h1.0M165.8 72.9h1.0M175.9 84.1h1.0M175.4 61.3h1.0M177.5 77.7h1.0M165.6 79.8h1.0M177.4 68.8h1.0M174.2 71.6h1.0M181.2 78.1h1.0M164.6 84.1h1.0M172.7 70.0h1.0M170.0 66.0h1.0M162.8 81.3h1.0M167.6 84.1h1.0M177.7 73.5h1.0M168.9 62.2h1.0M167.5 84.1h1.0M176.3 74.3h1.0M176.9 82.2h1.0M176.9 75.2h1.0M167.2 73.2h1.0M171.2 72.8h1.0M177.2 84.1h1.0M167.9 84.1h1.0M167.4 62.7h1.0M176.1 69.9h1.0M180.1 84.1h1.0M165.2 73.3h1.0M162.1 67.3h1.0M163.5 75.5h1.0M165.9 74.8h1.0M170.7 74.9h1.0M174.9 72.6h1.0M170.7 73.6h1.0M167.6 72.8h1.0M172.3 77.5h1.0M166.2 70.6h1.0M171.2 73.8h1.0M168.0 74.6h1.0M186.2 83.3h1.0M176.0 77.7h1.0M166.9 74.8h1.0M166.0 78.7h1.0M169.1 77.9h1.0M162.5 82.0h1.0M167.5 78.5h1.0M167.4 84.1h1.0M176.4 83.6h1.0M169.2 75.3h1.0M167.2 73.0h1.0M164.1 80.8h1.0M165.0 78.6h1.0M171.1 74.9h1.0M170.3 66.6h1.0M177.7 64.5h1.0M168.0 77.6h1.0M177.3 80.1h1.0M172.9 80.3h1.0M171.5 67.8h1.0M162.1 81.7h1.0M164.4 72.3h1.0M175.6 77.8h1.0M179.2 78.0h1.0M172.6 70.7h1.0M175.7 72.0h1.0M169.3 63.1h1.0M169.5 70.0h1.0M167.9 64.7h1.0M176.9 78.1h1.0M173.4 75.9h1.0M170.2 81.0h1.0M169.7 77.6h1.0M174.6 71.7h1.0M173.3 77.6h1.0M166.9 73.2h1.0M180.9 79.2h1.0M172.9 77.4h1.0M171.6 69.6h1.0M179.6 75.5h1.0M177.1 75.8h1.0M171.0 73.7h1.0M174.4 80.9h1.0M165.6 84.1h1.0M168.0 73.3h1.0M162.1 73.4h1.0M178.2 62.0h1.0M162.1 74.7h1.0M175.2 72.9h1.0M166.9 62.5h1.0M166.1 77.2h1.0M170.4 79.0h1.0M173.0 71.1h1.0M174.9 73.3h1.0M181.2 69.7h1.0M173.5 80.1h1.0M176.3 66.4h1.0M168.2 73.6h1.0M175.4 84.1h1.0M172.3 75.8h1.0M169.0 78.3h1.0M171.0 74.6h1.0M171.2 68.5h1.0M172.6 75.3h1.0M173.7 77.9h1.0M168.7 69.4h1.0M167.4 77.5h1.0M175.6 83.0h1.0M162.2 81.9h1.0M168.1 66.0h1.0M180.0 69.6h1.0M162.1 65.8h1.0M167.7 81.9h1.0M175.3 79.2h1.0M162.4 79.7h1.0M185.8 70.2h1.0M162.1 68.5h1.0M179.4 76.0h1.0M180.1 76.1h1.0M176.5 70.4h1.0M170.3 76.4h1.0M173.5 79.4h1.0M166.6 76.9h1.0M176.0 69.3h1.0M165.3 62.8h1.0M170.0 73.9h1.0M177.0 76.5h1.0M165.4 73.9h1.0M169.5 72.9h1.0M172.4 71.4h1.0M164.1 79.8h1.0M177.9 75.2h1.0M173.4 76.2h1.0M163.2 69.7h1.0M171.2 71.8h1.0M167.2 76.5h1.0M167.9 69.5h1.0M171.9 67.9h1.0M167.6 73.5h1.0M176.8 82.7h1.0M167.6 76.6h1.0M176.9 84.1h1.0M171.3 74.7h1.0M176.2 73.6h1.0M168.5 67.1h1.0M168.7 72.0h1.0M165.2 84.1h1.0M174.7 77.5h1.0M176.7 79.9h1.0M183.2 79.7h1.0M178.6 75.4h1.0M172.9 74.3h1.0M170.3 76.2h1.0M173.6 79.5h1.0M171.3 78.2h1.0M179.5 78.5h1.0M176.7 76.4h1.0M166.9 70.9h1.0M167.7 73.9h1.0M179.0 69.9h1.0M173.2 81.5h1.0M170.2 62.9h1.0M178.0 74.2h1.0M169.4 84.1h1.0M170.0 73.5h1.0M169.0 68.7h1.0M162.1 75.4h1.0M176.3 83.2h1.0M164.9 74.5h1.0M168.4 79.2h1.0M167.4 76.1h1.0M175.5 73.3h1.0M171.1 84.1h1.0M171.6 75.9h1.0M162.3 72.3h1.0M171.0 72.6h1.0M163.4 77.8h1.0M173.2 78.0h1.0M173.5 80.1h1.0M171.4 76.3h1.0M182.7 66.9h1.0M174.4 78.7h1.0M174.8 73.6h1.0M172.3 73.8h1.0M170.4 66.6h1.0M176.8 72.1h1.0M177.6 71.1h1.0M164.3 75.3h1.0M177.3 66.8h1.0M174.3 75.8h1.0M176.8 76.2h1.0M174.1 68.8h1.0M164.7 71.8h1.0M165.0 70.4h1.0M181.5 80.9h1.0M172.9 60.3h1.0M163.7 73.4h1.0M173.4 65.5h1.0M169.5 72.9h1.0M162.1 80.6h1.0M162.1 71.7h1.0M162.7 76.3h1.0M173.0 70.4h1.0M171.2 84.1h1.0M170.1 81.0h1.0M173.1 82.3h1.0M174.8 67.5h1.0M162.1 68.9h1.0M169.8 82.0h1.0M166.9 74.3h1.0M164.7 74.0h1.0M168.5 77.5h1.0M170.8 68.0h1.0M170.0 80.1h1.0M163.5 75.6h1.0M168.8 78.4h1.0M182.6 71.5h1.0M165.7 78.6h1.0M162.2 71.3h1.0M173.0 81.2h1.0M174.8 82.3h1.0M174.1 81.0h1.0M165.3 78.6h1.0M177.0 79.3h1.0M167.2 59.3h1.0M165.3 80.5h1.0M168.2 73.9h1.0M170.9 76.1h1.0M175.4 73.8h1.0M174.9 67.2h1.0M171.4 72.3h1.0M176.6 79.5h1.0M171.9 84.0h1.0M176.4 71.8h1.0M163.8 70.1h1.0M162.8 84.1h1.0M175.8 70.2h1.0M163.9 84.1h1.0M169.8 75.8h1.0M171.0 70.2h1.0M168.8 81.4h1.0M169.0 84.1h1.0M179.2 66.9h1.0M162.1 84.1h1.0M176.4 73.8h1.0M184.1 84.1h1.0M171.6 73.2h1.0M171.4 66.0h1.0M175.5 78.5h1.0M181.6 81.1h1.0M165.0 84.1h1.0M172.0 84.1h1.0M170.5 79.7h1.0M174.6 74.1h1.0M172.4 72.4h1.0M175.1 73.7h1.0M169.2 70.5h1.0M171.8 73.9h1.0M167.8 60.2h1.0M167.8 76.6h1.0M170.7 75.3h1.0M170.7 84.1h1.0M165.1 80.1h1.0M180.1 72.6h1.0M170.8 78.9h1.0M163.9 68.1h1.0M177.6 71.9h1.0M167.4 64.3h1.0M174.3 84.1h1.0M171.4 79.1h1.0M172.9 68.4h1.0M172.4 75.1h1.0M168.3 81.2h1.0M171.7 78.5h1.0M182.7 77.8h1.0M162.1 70.4h1.0M171.9 71.7h1.0M173.9 76.1h1.0M165.7 81.0h1.0M164.0 70.5h1.0M183.4 68.8h1.0M169.5 82.4h1.0M182.9 69.9h1.0M174.4 82.0h1.0M171.9 77.0h1.0M174.1 80.8h1.0M175.0 84.1h1.0M178.0 79.6h1.0M173.9 80.2h1.0M172.3 70.0h1.0M172.5 71.3h1.0M178.9 79.4h1.0M176.0 84.1h1.0M166.0 83.9h1.0M168.0 84.1h1.0M173.3 77.4h1.0M168.1 76.7h1.0M169.4 81.5h1.0M166.2 75.6h1.0M170.1 75.1h1.0M173.8 69.2h1.0M177.0 81.4h1.0M171.6 69.1h1.0M182.9 78.6h1.0M171.1 67.0h1.0M189.1 82.1h1.0M177.0 69.3h1.0M174.2 80.6h1.0M168.8 66.0h1.0M162.1 72.9h1.0M170.6 82.6h1.0M172.5 70.7h1.0M182.1 75.9h1.0M163.9 72.6h1.0M182.0 61.6h1.0M170.1 77.3h1.0M175.5 78.1h1.0M162.1 68.9h1.0M172.3 78.9h1.0M169.6 70.7h1.0M175.3 69.5h1.0M172.0 75.5h1.0M165.2 71.4h1.0M176.7 84.1h1.0M175.3 66.2h1.0M174.8 79.9h1.0M177.0 81.4h1.0M177.6 63.6h1.0M171.4 65.1h1.0M164.0 78.9h1.0M163.9 72.6h1.0M178.9 77.8h1.0M175.4 82.3h1.0M172.1 73.3h1.0M169.1 69.1h1.0M171.7 59.1h1.0M171.6 76.7h1.0M169.6 69.9h1.0M167.7 77.4h1.0M183.4 76.9h1.0M172.8 67.2h1.0M168.2 84.1h1.0M164.3 82.0h1.0M167.5 80.6h1.0M175.5 68.4h1.0M175.7 73.1h1.0M170.3 72.2h1.0M171.8 73.0h1.0M169.8 68.8h1.0M165.4 78.1h1.0M178.7 76.9h1.0M173.5 77.7h1.0M185.1 72.5h1.0M167.3 83.2h1.0M170.7 76.6h1.0M176.4 59.1h1.0M170.2 71.7h1.0M163.9 75.2h1.0M166.3 81.3h1.0M172.1 73.7h1.0M173.4 74.0h1.0M171.0 71.5h1.0M177.0 79.5h1.0M177.0 72.8h1.0M173.3 71.9h1.0M171.6 71.0h1.0M170.1 78.8h1.0M174.5 72.3h1.0M176.6 65.4h1.0M171.8 79.2h1.0M174.0 71.3h1.0M169.7 77.6h1.0M163.7 77.7h1.0M166.0 82.7h1.0M175.7 81.8h1.0M174.0 72.0h1.0M180.2 74.5h1.0M171.8 67.8h1.0M176.3 84.1h1.0M178.8 78.1h1.0M177.0 83.9h1.0M168.2 73.6h1.0M170.5 63.2h1.0M172.2 84.1h1.0M166.1 76.1h1.0M174.1 76.3h1.0M177.1 75.8h1.0M168.9 79.4h1.0M182.3 78.7h1.0M169.9 66.0h1.0M170.4 82.0h1.0M170.2 72.3h1.0M167.6 72.7h1.0M173.8 84.1h1.0M171.6 81.0h1.0M180.6 73.5h1.0M174.8 64.4h1.0M174.5 76.5h1.0M170.3 78.7h1.0M163.7 75.0h1.0M171.0 68.0h1.0M166.8 70.8h1.0M176.7 68.0h1.0M171.3 76.8h1.0M180.7 80.4h1.0M175.5 81.7h1.0M176.1 71.1h1.0M172.8 76.9h1.0M172.6 78.8h1.0M175.1 72.4h1.0M176.6 74.6h1.0M167.6 84.1h1.0M174.2 76.7h1.0M185.9 80.8h1.0M171.0 72.9h1.0M170.1 75.8h1.0M167.7 65.2h1.0M163.5 75.3h1.0M178.0 82.7h1.0M171.8 84.1h1.0M173.1 82.7h1.0M181.6 79.6h1.0M185.3 75.8h1.0M166.6 71.9h1.0M177.3 74.5h1.0M174.9 79.2h1.0M173.7 70.8h1.0M174.1 81.1h1.0M171.4 69.6h1.0M180.3 64.8h1.0M174.9 69.4h1.0M173.4 65.5h1.0M178.4 67.3h1.0M176.4 82.3h1.0M174.0 74.3h1.0M173.3 76.8h1.0M181.2 82.4h1.0M174.3 83.1h1.0M171.0 72.5h1.0M166.8 83.5h1.0M169.6 77.8h1.0M165.7 75.5h1.0M172.1 78.2h1.0M172.9 66.9h1.0M162.1 70.8h1.0M171.6 74.9h1.0M175.1 79.2h1.0M172.4 73.3h1.0M166.3 74.7h1.0M178.5 81.3h1.0M167.7 84.0h1.0M164.8 80.1h1.0M165.6 83.1h1.0M171.4 73.1h1.0M176.9 73.7h1.0M177.9 77.4h1.0M172.7 73.7h1.0M164.9 72.5h1.0M167.9 84.1h1.0M166.6 74.3h1.0M170.5 69.7h1.0M162.1 78.4h1.0M172.1 84.1h1.0M175.1 76.0h1.0M170.7 82.9h1.0M174.0 72.9h1.0M166.3 72.6h1.0M163.5 71.4h1.0M168.0 74.6h1.0M177.9 84.1h1.0M177.2 68.6h1.0M169.0 84.1h1.0M178.1 69.4h1.0M169.7 74.1h1.0M179.8 80.5h1.0M174.2 79.3h1.0M169.0 77.2h1.0M175.9 65.6h1.0M167.2 77.7h1.0M166.4 69.4h1.0M163.5 84.1h1.0M172.9 74.2h1.0M171.2 76.6h1.0M171.1 68.6h1.0M169.2 72.6h1.0M179.4 67.8h1.0M169.2 81.4h1.0M167.5 73.9h1.0M178.4 78.9h1.0M179.3 71.4h1.0M173.4 72.5h1.0M162.1 83.2h1.0M168.2 69.7h1.0M174.9 64.7h1.0M171.6 77.9h1.0M180.0 68.7h1.0M164.0 72.9h1.0M175.2 81.0h1.0M168.1 70.6h1.0M178.8 80.8h1.0M171.1 71.4h1.0M177.2 84.1h1.0M167.9 83.5h1.0M163.7 72.7h1.0M165.4 74.2h1.0M168.2 70.5h1.0M165.9 76.7h1.0M178.1 82.4h1.0M178.9 66.8h1.0M173.0 81.0h1.0M165.8 67.6h1.0M170.8 70.3h1.0M167.7 64.8h1.0M179.5 84.1h1.0M173.2 75.9h1.0M174.2 77.0h1.0M169.3 71.4h1.0M162.1 81.9h1.0M167.3 62.9h1.0M165.4 75.7h1.0M173.5 84.1h1.0M172.0 73.2h1.0M167.1 75.6h1.0M169.4 79.5h1.0M180.1 70.6h1.0M166.2 75.6h1.0M166.5 81.3h1.0M170.2 76.7h1.0M167.7 77.7h1.0M169.1 73.4h1.0M174.4 77.4h1.0M181.0 75.8h1.0M162.1 84.1h1.0M171.4 79.8h1.0M171.7 74.0h1.0M171.0 60.8h1.0M170.5 79.8h1.0M169.6 80.0h1.0M177.0 70.0h1.0M168.9 63.5h1.0M170.8 68.6h1.0M171.5 81.1h1.0M172.1 69.1h1.0M170.6 72.7h1.0M177.0 76.8h1.0M171.5 82.8h1.0M172.5 75.4h1.0M171.2 74.9h1.0M166.0 72.2h1.0M166.9 84.1h1.0M165.7 81.9h1.0M172.6 74.9h1.0M167.6 67.1h1.0M165.7 70.8h1.0M172.8 79.0h1.0M174.4 71.2h1.0M162.1 80.9h1.0M180.8 77.7h1.0M171.7 77.3h1.0M170.9 79.4h1.0M177.4 78.5h1.0M171.9 70.4h1.0M168.2 73.5h1.0M183.6 84.1h1.0M165.6 68.3h1.0M171.0 72.7h1.0M176.2 81.9h1.0M165.6 74.5h1.0M170.9 70.6h1.0M173.6 67.6h1.0M184.7 78.7h1.0M166.6 81.6h1.0M171.2 83.9h1.0M175.1 75.8h1.0M171.9 81.8h1.0M164.9 69.3h1.0M173.7 76.5h1.0M172.1 71.4h1.0M174.0 76.5h1.0M177.7 80.0h1.0M177.1 81.9h1.0M173.7 69.6h1.0M173.2 83.1h1.0M165.5 72.7h1.0M170.8 69.3h1.0M172.7 74.5h1.0M169.3 66.7h1.0M172.0 75.5h1.0M167.0 77.2h1.0M179.9 74.3h1.0M183.3 78.7h1.0M169.4 73.6h1.0M173.7 75.5h1.0M170.2 66.9h1.0M178.4 75.8h1.0M173.9 70.4h1.0M171.9 72.8h1.0M162.6 59.4h1.0M165.0 67.1h1.0M177.9 55.5h1.0M172.1 60.7h1.0M173.3 61.9h1.0M168.5 66.3h1.0M165.5 52.5h1.0M179.6 58.5h1.0M164.7 60.6h1.0M168.5 62.6h1.0M178.5 54.5h1.0M168.6 61.8h1.0M182.9 64.5h1.0M165.9 65.2h1.0M173.6 56.0h1.0M173.8 59.9h1.0M173.0 57.4h1.0M179.0 59.0h1.0M163.0 58.5h1.0M174.0 69.0h1.0M179.4 52.2h1.0M163.1 69.1h1.0M174.0 52.6h1.0M171.7 53.4h1.0M170.9 55.7h1.0M173.8 57.2h1.0M175.7 67.4h1.0M177.5 67.1h1.0M181.8 68.8h1.0M176.4 59.0h1.0M184.0 52.3h1.0M176.6 63.3h1.0M167.9 68.2h1.0M165.2 53.9h1.0M163.6 66.9h1.0M167.9 52.0h1.0M164.6 65.2h1.0M177.0 60.9h1.0M177.2 68.3h1.0M175.5 67.7h1.0M170.4 52.8h1.0M172.2 61.0h1.0M167.7 56.4h1.0M182.2 59.9h1.0M162.3 53.2h1.0M169.1 58.5h1.0M174.6 59.4h1.0M166.0 52.1h1.0M180.8 60.5h1.0M172.6 68.1h1.0M170.2 53.1h1.0M163.4 69.0h1.0M168.2 60.8h1.0M175.0 55.8h1.0M168.2 69.4h1.0M163.0 60.5h1.0M174.8 59.9h1.0M168.7 58.8h1.0M180.6 67.9h1.0M177.2 54.3h1.0M177.9 55.8h1.0M181.6 57.1h1.0M179.8 53.1h1.0M169.2 67.2h1.0M174.5 60.8h1.0M167.7 62.8h1.0M166.4 67.9h1.0M166.5 60.9h1.0M164.4 57.0h1.0M167.3 61.6h1.0M166.9 61.0h1.0M176.8 57.4h1.0M167.5 56.2h1.0M163.0 58.4h1.0M171.3 65.2h1.0M166.4 55.0h1.0M177.2 69.9h1.0M166.9 56.2h1.0M174.3 56.9h1.0M165.9 54.2h1.0M172.6 59.1h1.0M181.1 58.7h1.0M168.7 64.3h1.0M173.6 68.1h1.0M171.6 56.5h1.0M163.5 66.6h1.0M162.5 57.5h1.0M180.5 59.3h1.0M169.5 54.3h1.0M177.1 68.1h1.0M162.1 44.1h1.0M162.3 77.2h1.0M162.1 76.1h1.0M162.3 77.3h1.0M162.1 38.6h1.0M162.1 58.8h1.0M162.3 30.2h1.0M162.1 50.9h1.0M162.1 59.6h1.0M162.5 40.5h1.0M162.1 50.3h1.0M162.1 47.0h1.0M162.1 30.1h1.0M162.1 29.1h1.0M162.1 71.9h1.0M162.1 25.2h1.0M162.3 84.1h1.0M162.5 78.8h1.0M162.3 84.1h1.0M162.1 72.1h1.0M162.1 25.1h1.0M162.3 32.0h1.0M162.5 44.1h1.0M162.3 35.9h1.0M162.1 28.6h1.0M162.1 80.0h1.0M162.5 79.6h1.0M162.1 71.0h1.0M162.1 40.2h1.0M162.6 76.1h1.0M162.1 74.2h1.0M162.6 44.4h1.0M162.1 32.7h1.0M162.1 33.1h1.0M162.1 49.5h1.0M162.5 74.9h1.0M162.1 29.6h1.0M162.5 50.8h1.0M162.1 46.3h1.0M162.5 78.5h1.0M162.1 34.2h1.0M162.1 64.3h1.0M162.1 44.4h1.0M162.4 63.8h1.0M162.1 74.3h1.0M162.3 74.5h1.0M162.1 75.7h1.0M162.4 42.6h1.0M162.7 41.6h1.0M162.1 32.4h1.0M168.1 61.4h1.0M164.9 51.3h1.0M180.8 49.5h1.0M163.1 51.2h1.0M166.6 45.1h1.0M181.0 58.7h1.0M180.4 53.7h1.0M185.4 45.5h1.0M171.2 41.2h1.0M163.1 37.2h1.0M181.4 42.1h1.0M168.9 43.2h1.0M180.6 35.3h1.0M162.5 59.8h1.0M162.8 40.5h1.0M176.4 48.7h1.0M178.4 34.9h1.0M175.5 49.0h1.0M174.8 51.7h1.0M176.3 35.3h1.0M165.1 61.3h1.0M163.5 37.7h1.0M170.4 40.6h1.0M175.1 54.4h1.0M168.0 42.8h1.0M166.3 58.4h1.0M172.7 39.9h1.0M171.8 42.1h1.0M168.4 53.1h1.0M184.2 57.9h1.0M184.6 58.6h1.0M163.1 41.4h1.0M173.5 48.4h1.0M167.7 44.9h1.0M170.1 52.6h1.0M162.7 39.6h1.0M163.9 57.3h1.0M162.8 53.7h1.0M165.0 38.1h1.0M177.6 42.1h1.0M163.9 42.7h1.0M183.3 60.0h1.0M181.3 46.2h1.0M168.5 50.9h1.0M178.6 60.0h1.0M184.8 44.5h1.0M164.8 60.4h1.0M175.4 41.5h1.0M173.2 33.4h1.0M169.4 36.0h1.0M168.9 53.1h1.0M164.1 44.1h1.0M177.5 57.2h1.0M166.7 48.5h1.0M172.1 52.9h1.0M184.3 43.2h1.0M170.4 50.0h1.0M169.6 53.2h1.0M184.4 43.9h1.0M176.0 47.2h1.0M175.7 57.5h1.0M167.3 59.9h1.0M177.4 43.2h1.0M171.1 34.9h1.0M175.1 57.4h1.0M171.5 46.0h1.0M163.9 61.1h1.0M183.1 55.1h1.0M178.6 43.7h1.0M185.0 57.7h1.0M169.4 48.9h1.0M168.8 53.7h1.0M165.3 58.7h1.0M169.3 49.8h1.0M169.8 60.5h1.0M166.4 44.6h1.0M168.4 44.0h1.0M169.1 51.6h1.0M182.6 44.7h1.0M172.7 53.5h1.0M181.7 48.4h1.0M163.2 54.5h1.0M166.5 56.9h1.0M184.9 49.5h1.0M163.2 59.5h1.0M163.7 55.7h1.0M174.4 57.9h1.0M169.0 33.6h1.0M166.7 33.4h1.0M176.6 51.4h1.0M176.6 42.7h1.0M166.5 58.3h1.0M174.9 44.4h1.0M172.9 54.6h1.0M182.3 40.1h1.0M163.6 51.3h1.0M167.6 59.1h1.0M175.6 58.0h1.0M162.8 43.6h1.0M182.3 47.0h1.0M185.2 48.5h1.0M169.9 43.0h1.0M180.6 47.0h1.0M168.0 61.0h1.0M184.8 58.5h1.0M167.1 42.1h1.0M162.1 52.8h1.0M163.6 60.5h1.0M173.0 43.5h1.0M162.9 57.6h1.0M209.6 68.9h1.0M211.1 67.7h1.0M197.4 69.6h1.0M211.7 57.5h1.0M212.7 59.1h1.0M200.1 64.6h1.0M206.8 63.7h1.0M197.5 67.6h1.0M206.2 68.2h1.0M208.0 58.1h1.0M208.7 54.4h1.0M210.6 66.8h1.0M201.0 65.7h1.0M198.0 57.5h1.0M209.9 53.1h1.0M196.4 52.5h1.0M200.0 57.0h1.0M200.0 57.5h1.0M209.2 56.1h1.0M203.5 53.0h1.0M210.2 55.4h1.0M207.4 59.0h1.0M186.4 60.8h1.0M188.1 56.5h1.0M191.6 59.1h1.0M197.7 61.8h1.0M198.1 60.5h1.0M191.1 63.8h1.0M186.9 51.4h1.0M189.0 54.8h1.0" stroke="#000" stroke-opacity="0.68" stroke-width="1" fill="none"/>
<path d="M200.9 49.3h1.0M213.0 43.4h1.0M215.4 43.9h1.0M206.3 47.6h1.0M201.4 58.9h1.0" stroke="#000" stroke-opacity="0.35" stroke-width="1" fill="none"/>
<text class="tk" x="161.8" y="92.4" font-size="4.3" text-anchor="middle" fill="#111">10<tspan dy="-1.8" font-size="3.2">0</tspan></text>
<text class="tk" transform="translate(157.5 84.9) rotate(-90)" font-size="4.3" text-anchor="middle" fill="#111">10<tspan dy="-1.8" font-size="3.2">0</tspan></text>
<text class="tk" x="181.4" y="92.4" font-size="4.3" text-anchor="middle" fill="#111">10<tspan dy="-1.8" font-size="3.2">1</tspan></text>
<text class="tk" transform="translate(157.5 68.0) rotate(-90)" font-size="4.3" text-anchor="middle" fill="#111">10<tspan dy="-1.8" font-size="3.2">1</tspan></text>
<text class="tk" x="201.1" y="92.4" font-size="4.3" text-anchor="middle" fill="#111">10<tspan dy="-1.8" font-size="3.2">2</tspan></text>
<text class="tk" transform="translate(157.5 51.2) rotate(-90)" font-size="4.3" text-anchor="middle" fill="#111">10<tspan dy="-1.8" font-size="3.2">2</tspan></text>
<text class="tk" x="220.7" y="92.4" font-size="4.3" text-anchor="middle" fill="#111">10<tspan dy="-1.8" font-size="3.2">3</tspan></text>
<text class="tk" transform="translate(157.5 34.3) rotate(-90)" font-size="4.3" text-anchor="middle" fill="#111">10<tspan dy="-1.8" font-size="3.2">3</tspan></text>
<text class="tk" x="240.3" y="92.4" font-size="4.3" text-anchor="middle" fill="#111">10<tspan dy="-1.8" font-size="3.2">4</tspan></text>
<text class="tk" transform="translate(157.5 17.4) rotate(-90)" font-size="4.3" text-anchor="middle" fill="#111">10<tspan dy="-1.8" font-size="3.2">4</tspan></text>
<path d="M93.2 122.9h1.0M114.3 122.9h1.0M90.5 122.1h1.0M95.7 117.6h1.0M101.6 122.5h1.0M88.9 118.1h1.0M104.4 119.4h1.0M104.9 123.2h1.0M97.1 117.4h1.0M115.8 121.2h1.0M100.3 120.1h1.0M102.0 119.2h1.0M91.4 117.7h1.0M85.3 120.3h1.0M94.2 118.6h1.0M96.8 121.6h1.0M95.7 121.9h1.0M106.1 116.7h1.0M79.3 118.5h1.0M89.9 118.9h1.0M84.0 117.1h1.0M111.0 117.3h1.0M94.8 119.7h1.0M95.2 119.1h1.0M90.2 116.2h1.0M107.2 118.4h1.0M96.1 120.5h1.0M101.5 117.1h1.0M82.3 117.7h1.0M109.5 122.7h1.0M102.9 122.1h1.0M104.3 116.3h1.0M110.1 116.8h1.0M97.9 120.3h1.0M98.2 117.1h1.0M105.7 119.0h1.0M103.2 118.6h1.0M97.5 120.6h1.0M100.0 114.4h1.0M95.3 115.1h1.0M105.7 117.0h1.0M107.5 121.5h1.0M99.6 119.2h1.0M115.6 116.1h1.0M86.5 120.5h1.0M97.6 120.9h1.0M114.2 119.0h1.0M96.0 118.8h1.0M86.0 120.4h1.0M111.5 121.9h1.0M104.2 119.8h1.0M89.4 120.6h1.0M106.2 119.4h1.0M90.9 118.7h1.0M88.2 117.7h1.0M98.3 120.0h1.0M95.5 118.9h1.0M90.2 119.0h1.0M96.5 121.4h1.0M91.0 120.5h1.0M100.1 121.2h1.0M99.4 116.3h1.0M105.9 120.6h1.0M95.7 118.3h1.0M88.2 117.9h1.0M88.4 117.8h1.0M97.5 121.9h1.0M112.7 121.2h1.0M106.8 118.1h1.0M94.1 117.2h1.0M107.6 119.5h1.0M89.7 118.6h1.0M108.2 122.8h1.0M96.3 116.6h1.0M106.1 115.8h1.0M104.9 119.0h1.0M97.2 119.5h1.0M102.4 119.8h1.0M90.5 121.0h1.0M99.0 123.6h1.0M108.8 118.8h1.0M105.6 116.0h1.0M100.4 120.0h1.0M91.0 121.2h1.0M108.6 119.0h1.0M85.5 121.9h1.0M92.8 119.6h1.0M102.7 122.5h1.0M89.3 120.2h1.0M112.7 117.4h1.0M108.9 118.2h1.0M94.8 116.4h1.0M94.9 116.0h1.0M88.4 120.0h1.0M87.7 121.2h1.0M103.4 123.4h1.0M104.9 119.4h1.0M102.6 119.0h1.0M101.9 117.3h1.0M94.8 121.5h1.0M102.7 120.3h1.0M87.1 118.3h1.0M99.7 120.9h1.0M112.2 120.6h1.0M110.9 115.8h1.0M95.7 121.0h1.0M96.8 119.8h1.0M111.4 118.7h1.0M114.9 118.7h1.0M86.8 123.0h1.0M96.0 122.6h1.0M101.6 123.2h1.0M110.0 117.2h1.0M92.5 118.2h1.0M105.1 121.3h1.0M97.0 117.1h1.0M103.3 115.9h1.0M98.5 123.2h1.0M96.8 121.6h1.0M108.6 120.4h1.0M105.4 119.9h1.0M90.4 118.7h1.0M101.5 118.7h1.0M88.2 120.7h1.0M93.2 118.1h1.0M88.6 122.0h1.0M88.3 118.5h1.0M93.8 117.8h1.0M91.3 122.1h1.0M104.1 119.2h1.0M106.4 120.6h1.0M97.6 118.7h1.0M90.1 115.0h1.0M106.5 120.6h1.0M82.3 116.8h1.0M83.1 121.7h1.0M105.8 116.4h1.0M105.2 115.8h1.0M107.9 120.1h1.0M97.8 120.4h1.0M88.9 119.7h1.0M95.3 117.1h1.0M104.5 121.3h1.0M93.1 116.6h1.0M93.6 118.6h1.0M87.7 117.9h1.0M89.7 118.7h1.0M106.8 121.2h1.0M103.5 118.2h1.0M89.7 120.6h1.0M90.4 120.9h1.0M94.8 116.1h1.0M104.3 117.2h1.0M89.6 118.7h1.0M98.2 118.3h1.0M81.3 120.1h1.0M88.9 115.6h1.0M103.2 120.9h1.0M107.3 121.0h1.0M89.7 119.2h1.0M93.0 116.7h1.0M106.4 119.5h1.0M96.3 118.4h1.0M95.0 120.6h1.0M104.1 119.3h1.0M101.3 121.0h1.0M109.1 118.6h1.0M106.4 122.4h1.0M94.7 114.9h1.0M98.6 117.5h1.0M99.1 120.5h1.0M88.1 116.5h1.0M91.3 121.0h1.0M107.9 117.1h1.0M86.1 119.7h1.0M108.1 117.7h1.0M102.1 118.6h1.0M98.4 119.8h1.0M104.2 119.3h1.0M103.7 118.7h1.0M110.0 123.8h1.0M96.2 119.5h1.0M97.7 117.6h1.0M97.5 121.4h1.0M115.7 121.1h1.0M107.7 121.9h1.0M91.8 123.1h1.0M96.8 117.6h1.0M93.6 121.6h1.0M99.8 121.8h1.0M101.5 119.5h1.0M119.2 120.0h1.0M84.1 113.5h1.0M108.4 118.4h1.0M103.4 123.1h1.0M93.7 115.9h1.0M98.4 118.4h1.0M95.4 120.1h1.0M100.1 120.7h1.0M108.2 122.8h1.0M86.7 116.0h1.0M110.9 119.6h1.0M96.5 121.2h1.0M112.5 116.9h1.0M103.2 119.4h1.0M110.2 123.3h1.0M104.5 122.1h1.0M108.9 120.6h1.0M100.2 114.3h1.0M92.6 119.2h1.0M105.4 120.3h1.0M105.8 118.9h1.0M117.6 119.4h1.0M82.6 125.7h1.0M98.0 119.1h1.0M108.7 117.6h1.0M89.0 120.0h1.0M97.8 118.9h1.0M117.8 118.9h1.0M111.8 119.3h1.0M92.2 121.0h1.0M111.9 120.0h1.0M109.8 117.1h1.0M106.3 119.2h1.0M103.0 120.4h1.0M101.8 118.6h1.0M92.3 121.8h1.0M95.3 121.1h1.0M106.0 117.5h1.0M100.9 120.1h1.0M115.5 123.5h1.0M96.9 122.6h1.0M79.3 119.4h1.0M96.9 121.3h1.0M102.1 118.2h1.0M103.0 116.6h1.0M100.3 120.6h1.0M92.7 120.0h1.0M112.5 120.5h1.0M94.1 119.5h1.0M105.8 120.2h1.0M97.3 118.5h1.0M89.6 120.4h1.0M111.8 121.2h1.0M78.4 119.4h1.0M92.5 121.1h1.0M103.5 116.0h1.0M96.7 117.9h1.0M106.2 122.4h1.0M98.9 123.0h1.0M95.9 120.0h1.0M118.2 119.3h1.0M97.9 117.0h1.0M98.5 120.2h1.0M90.6 121.1h1.0M93.4 116.5h1.0M105.3 120.6h1.0M104.6 120.5h1.0M99.8 120.4h1.0M93.9 117.2h1.0M105.7 120.6h1.0M85.3 116.5h1.0M96.9 122.5h1.0M97.7 119.8h1.0M92.6 117.2h1.0M101.1 122.2h1.0M94.2 121.8h1.0M93.0 118.2h1.0M115.2 123.9h1.0M106.2 117.5h1.0M110.1 120.1h1.0M100.3 121.9h1.0M108.1 115.0h1.0M106.5 121.5h1.0M110.2 119.4h1.0M98.0 117.3h1.0M102.1 120.2h1.0M99.5 117.3h1.0M70.0 117.6h1.0M88.0 118.6h1.0M100.1 117.0h1.0M105.3 122.6h1.0M95.0 116.8h1.0M109.6 118.0h1.0M110.9 118.9h1.0M96.4 119.5h1.0M112.1 121.1h1.0M114.8 121.1h1.0M103.9 118.9h1.0M91.6 118.7h1.0M112.4 119.6h1.0M98.6 121.1h1.0M96.8 120.9h1.0M101.0 118.5h1.0M95.4 115.4h1.0M109.1 123.8h1.0M106.6 121.4h1.0M110.4 120.0h1.0M104.9 120.2h1.0M93.2 118.5h1.0M98.6 117.5h1.0M107.4 118.8h1.0M96.5 119.1h1.0M97.9 116.6h1.0M95.0 118.9h1.0M109.8 120.7h1.0M106.4 118.5h1.0M99.8 119.5h1.0M98.0 115.4h1.0M103.6 119.1h1.0M107.1 119.3h1.0M106.5 117.0h1.0M97.4 116.0h1.0M103.7 120.3h1.0M107.2 117.9h1.0M106.5 120.5h1.0M73.8 118.7h1.0M92.4 120.7h1.0M93.4 118.8h1.0M98.0 116.5h1.0M101.5 119.3h1.0M107.8 118.8h1.0M105.3 120.8h1.0M98.9 118.6h1.0M100.2 118.7h1.0M115.0 121.2h1.0M94.8 121.8h1.0M102.6 121.0h1.0M113.3 121.6h1.0M102.9 120.4h1.0M82.6 121.0h1.0M103.2 121.3h1.0M96.7 120.3h1.0M99.0 119.6h1.0M108.9 119.8h1.0M104.0 124.3h1.0M97.8 119.5h1.0M107.6 119.0h1.0M103.7 118.8h1.0M100.9 119.4h1.0M102.6 120.0h1.0M102.2 117.2h1.0M97.1 115.5h1.0M96.1 120.1h1.0M100.2 116.3h1.0M91.9 120.0h1.0M89.3 119.8h1.0M111.1 121.8h1.0M98.0 122.8h1.0M99.8 120.2h1.0M98.9 118.4h1.0M100.2 117.2h1.0M100.2 117.9h1.0M100.6 119.6h1.0M93.2 115.4h1.0M107.9 119.7h1.0M94.1 119.5h1.0M108.8 120.8h1.0M83.7 118.8h1.0M91.0 119.7h1.0M108.4 118.0h1.0M98.7 118.6h1.0M94.3 116.0h1.0M103.2 119.7h1.0M91.1 122.6h1.0M100.7 119.8h1.0M81.2 120.2h1.0M96.2 117.5h1.0M94.5 122.4h1.0M104.6 118.0h1.0M107.4 121.1h1.0M92.7 119.7h1.0M113.7 117.6h1.0M95.0 121.6h1.0M82.5 119.5h1.0M79.8 119.9h1.0M113.1 120.4h1.0M99.3 119.5h1.0M94.5 118.7h1.0M93.6 120.4h1.0M90.7 118.7h1.0M111.5 119.6h1.0M99.3 118.2h1.0M115.2 116.5h1.0M98.3 118.2h1.0M80.0 118.5h1.0M107.2 119.5h1.0M96.9 121.9h1.0M98.0 116.1h1.0M113.3 119.8h1.0M97.8 115.1h1.0M109.9 117.4h1.0M100.0 118.5h1.0M93.6 115.0h1.0M104.3 115.8h1.0M94.9 119.8h1.0M110.4 119.7h1.0M108.2 119.3h1.0M100.5 117.9h1.0M105.2 123.8h1.0M104.8 119.2h1.0M97.7 117.8h1.0M107.6 122.9h1.0M98.1 120.7h1.0M105.2 118.8h1.0M91.9 121.9h1.0M100.9 119.8h1.0M103.5 120.8h1.0M93.3 120.0h1.0M96.5 117.4h1.0M95.5 121.4h1.0M106.2 119.8h1.0M93.9 117.5h1.0M103.8 118.0h1.0M113.0 121.4h1.0M103.1 118.8h1.0M86.3 119.6h1.0M101.1 120.8h1.0M108.9 119.8h1.0M97.6 116.4h1.0M109.5 120.8h1.0M105.3 121.4h1.0M103.6 121.2h1.0M97.8 122.7h1.0M95.7 120.2h1.0M97.9 121.1h1.0M100.6 122.7h1.0M104.5 118.9h1.0M103.7 123.0h1.0M97.5 123.0h1.0M100.6 121.1h1.0M103.4 123.2h1.0M86.3 121.2h1.0M93.6 117.7h1.0M93.3 121.8h1.0M98.4 120.2h1.0M97.8 120.3h1.0M97.9 119.8h1.0M92.7 122.2h1.0M105.8 120.6h1.0M102.5 118.1h1.0M86.2 120.5h1.0M100.2 121.0h1.0M90.5 118.0h1.0M114.6 118.6h1.0M96.3 118.7h1.0M96.8 118.3h1.0M100.8 120.2h1.0M98.4 121.5h1.0M99.6 123.3h1.0M113.3 121.9h1.0M102.1 121.5h1.0M107.2 121.8h1.0M109.7 122.2h1.0M91.9 118.7h1.0M114.5 120.9h1.0M106.0 120.1h1.0M108.3 119.2h1.0M92.8 118.6h1.0M107.1 118.5h1.0M103.7 119.0h1.0M95.6 117.0h1.0M105.0 119.5h1.0M98.1 119.7h1.0M101.8 120.2h1.0M107.9 120.9h1.0M109.8 118.3h1.0M105.1 119.3h1.0M110.5 116.3h1.0M112.7 115.1h1.0M89.7 115.6h1.0M96.0 122.6h1.0M92.2 115.8h1.0M101.0 120.4h1.0M112.4 122.5h1.0M105.7 118.6h1.0M91.3 122.8h1.0M97.7 123.2h1.0M108.9 121.4h1.0M95.7 124.2h1.0M99.3 120.7h1.0M102.8 118.0h1.0M84.7 120.5h1.0M106.8 118.6h1.0M103.1 116.9h1.0M105.0 117.0h1.0M91.9 124.1h1.0M93.6 118.4h1.0M95.1 119.5h1.0M102.3 118.2h1.0M100.8 119.8h1.0M101.3 119.0h1.0M115.4 118.7h1.0M111.3 117.1h1.0M94.1 116.7h1.0M94.6 118.0h1.0M114.8 120.1h1.0M97.5 123.7h1.0M111.9 121.6h1.0M113.8 123.2h1.0M95.6 120.5h1.0M97.9 119.4h1.0M100.9 116.9h1.0M92.8 119.5h1.0M91.9 115.2h1.0M96.8 118.9h1.0M107.4 122.8h1.0M96.4 120.2h1.0M98.4 121.8h1.0M96.2 118.8h1.0M88.6 116.8h1.0M112.8 118.6h1.0M80.3 118.7h1.0M94.6 122.0h1.0M104.9 123.5h1.0M88.3 118.1h1.0M105.3 118.8h1.0M110.8 119.3h1.0M92.9 118.8h1.0M101.9 117.1h1.0M90.7 119.7h1.0M104.5 120.3h1.0M100.9 120.3h1.0M102.0 117.1h1.0M111.8 119.3h1.0M104.2 116.1h1.0M111.6 121.4h1.0M105.6 117.5h1.0M90.0 119.0h1.0M102.4 118.7h1.0M104.3 118.4h1.0M87.9 117.4h1.0M111.5 116.0h1.0M100.7 123.0h1.0M103.3 120.1h1.0M92.5 120.1h1.0M100.8 123.8h1.0M102.7 119.4h1.0M97.4 120.7h1.0M100.8 119.6h1.0M82.1 121.9h1.0M111.7 120.6h1.0M90.7 120.2h1.0M81.6 119.1h1.0M92.0 120.1h1.0M93.1 121.9h1.0M104.8 115.4h1.0M92.4 119.3h1.0M102.6 118.7h1.0M92.0 119.0h1.0M118.9 115.6h1.0M104.8 121.0h1.0M116.8 117.9h1.0M91.5 119.1h1.0M105.8 118.6h1.0M92.0 116.2h1.0M105.1 118.7h1.0M105.9 115.9h1.0M86.6 117.7h1.0M90.5 118.9h1.0M90.2 119.6h1.0M87.4 119.7h1.0M93.9 119.3h1.0M92.0 123.8h1.0M87.9 120.4h1.0M101.0 117.1h1.0M104.8 118.3h1.0M89.0 118.3h1.0M95.4 119.2h1.0M100.2 118.4h1.0M98.1 117.9h1.0M94.2 122.9h1.0M107.0 119.7h1.0M107.3 118.9h1.0M105.9 119.1h1.0M98.3 119.1h1.0M117.0 122.4h1.0M114.9 120.5h1.0M96.7 121.8h1.0M99.1 113.3h1.0M110.2 120.2h1.0M93.3 121.7h1.0M103.5 123.5h1.0M100.5 119.6h1.0M94.1 116.1h1.0M98.1 120.7h1.0M86.7 118.4h1.0M95.5 116.0h1.0M83.1 118.3h1.0M119.5 121.7h1.0M112.9 122.0h1.0M110.5 121.0h1.0M102.6 117.5h1.0M108.6 124.6h1.0M110.9 117.2h1.0M108.7 119.4h1.0M107.9 116.7h1.0M92.3 122.2h1.0M103.7 120.5h1.0M95.5 121.4h1.0M90.0 119.8h1.0M90.4 119.4h1.0M103.7 119.9h1.0M109.0 115.8h1.0M88.4 121.6h1.0M114.9 121.4h1.0M112.5 118.8h1.0M96.8 119.6h1.0M96.1 120.2h1.0M99.4 122.7h1.0M108.4 120.4h1.0M96.8 119.7h1.0M90.6 118.6h1.0M102.9 116.6h1.0M82.5 118.4h1.0M101.2 119.7h1.0M109.9 119.1h1.0M102.6 119.7h1.0M106.6 121.1h1.0M104.2 120.5h1.0M106.2 120.1h1.0M101.2 120.9h1.0M93.0 120.0h1.0M98.1 119.5h1.0M99.4 120.5h1.0M110.7 116.1h1.0M113.8 122.1h1.0M103.6 117.0h1.0M93.6 121.3h1.0M93.8 119.6h1.0M98.4 121.8h1.0M111.8 119.7h1.0M102.8 117.7h1.0M99.5 121.7h1.0M93.5 120.0h1.0M107.5 119.8h1.0M102.5 119.8h1.0M99.6 121.6h1.0M100.9 121.2h1.0M114.3 120.1h1.0M98.6 116.5h1.0M114.4 118.8h1.0M110.6 119.8h1.0M100.4 123.2h1.0M107.5 120.4h1.0M98.9 119.4h1.0M93.0 122.0h1.0M97.7 119.4h1.0M92.3 119.6h1.0M104.3 119.9h1.0M100.1 116.6h1.0M104.8 121.5h1.0M107.0 120.5h1.0M73.5 119.0h1.0M102.6 117.3h1.0M84.7 120.0h1.0M101.4 122.4h1.0M92.5 118.3h1.0M100.9 117.5h1.0M111.6 120.5h1.0M85.5 116.4h1.0M101.6 115.2h1.0M99.3 118.7h1.0M83.9 118.2h1.0M105.5 119.1h1.0M100.3 118.5h1.0M95.7 120.3h1.0M93.9 119.2h1.0M96.7 118.7h1.0M84.7 120.9h1.0M92.1 121.5h1.0M96.9 121.4h1.0M96.7 121.0h1.0M99.3 113.0h1.0M91.1 117.6h1.0M104.6 119.0h1.0M95.9 120.0h1.0M88.4 116.4h1.0M93.1 122.5h1.0M96.7 120.2h1.0M107.2 118.4h1.0M104.1 119.9h1.0M97.1 118.9h1.0M100.2 118.1h1.0M101.8 120.6h1.0M117.3 118.7h1.0M94.8 116.8h1.0M104.0 118.4h1.0M106.2 119.4h1.0M91.9 117.5h1.0M101.6 122.1h1.0M101.4 117.4h1.0M96.0 123.1h1.0M104.8 121.4h1.0M108.7 117.7h1.0M109.6 119.9h1.0M98.4 122.0h1.0M101.6 119.2h1.0M90.6 119.9h1.0M101.9 123.6h1.0M107.6 116.6h1.0M101.3 120.7h1.0M105.6 119.6h1.0M101.5 119.4h1.0M106.4 118.9h1.0M110.9 119.0h1.0M98.1 121.7h1.0M101.7 120.8h1.0M99.5 117.6h1.0M96.6 122.8h1.0M99.8 117.0h1.0M90.4 121.0h1.0M106.3 120.0h1.0M68.5 117.9h1.0M62.2 120.4h1.0M67.4 118.9h1.0M59.3 123.5h1.0M66.8 119.5h1.0M62.1 117.3h1.0M75.6 117.4h1.0M54.3 117.8h1.0M68.5 119.9h1.0M63.0 119.6h1.0M60.9 121.6h1.0M55.3 120.0h1.0M62.9 119.9h1.0M48.5 120.3h1.0M49.3 119.4h1.0M64.9 120.2h1.0M47.9 121.2h1.0M70.3 121.2h1.0M57.5 118.5h1.0M61.4 116.1h1.0M60.1 118.0h1.0M62.7 120.2h1.0M57.5 114.7h1.0M56.8 118.7h1.0M58.6 120.5h1.0M67.4 118.5h1.0M68.1 117.4h1.0M69.1 123.1h1.0M62.3 122.4h1.0M58.1 119.1h1.0M47.0 122.3h1.0M64.4 122.2h1.0M65.9 117.4h1.0M56.5 125.0h1.0M65.6 117.7h1.0M69.2 119.1h1.0M60.3 117.4h1.0M67.5 119.8h1.0M61.9 117.0h1.0M46.6 119.6h1.0M56.0 121.8h1.0M56.5 120.0h1.0M63.5 119.1h1.0M53.1 122.7h1.0M56.3 117.8h1.0M52.4 121.5h1.0M59.3 119.0h1.0M60.1 120.0h1.0M66.9 119.7h1.0M65.6 119.9h1.0M60.8 119.5h1.0M61.4 118.0h1.0M60.4 118.5h1.0M60.4 120.5h1.0M71.2 119.4h1.0M58.3 118.2h1.0M61.9 118.2h1.0M68.1 119.5h1.0M51.4 119.9h1.0M62.2 119.8h1.0M66.0 118.3h1.0M56.2 119.6h1.0M45.3 116.8h1.0M56.9 113.8h1.0M50.6 119.5h1.0M64.5 116.3h1.0M53.2 117.7h1.0M72.9 117.2h1.0M60.6 120.8h1.0M53.5 117.2h1.0M55.8 120.1h1.0M51.4 118.6h1.0M62.5 117.1h1.0M70.8 116.4h1.0M58.0 120.5h1.0M66.5 120.3h1.0M52.5 121.1h1.0M61.9 123.2h1.0M76.9 120.1h1.0M49.0 120.1h1.0M68.8 119.3h1.0M68.4 119.8h1.0M45.5 118.8h1.0M48.8 117.8h1.0M52.3 123.5h1.0M66.8 115.8h1.0M56.4 120.0h1.0M58.3 120.4h1.0M64.9 119.8h1.0M60.5 117.6h1.0M61.3 119.1h1.0M57.2 118.6h1.0M68.0 117.4h1.0M53.7 119.4h1.0M72.1 118.7h1.0M57.0 118.4h1.0M53.6 120.9h1.0M64.4 117.4h1.0M63.0 120.4h1.0M44.7 118.3h1.0M61.2 120.4h1.0M49.4 119.6h1.0M53.3 120.0h1.0M65.5 117.5h1.0M93.4 141.0h1.0M92.7 147.8h1.0M101.5 153.6h1.0M106.3 155.1h1.0M109.1 141.1h1.0M95.7 150.2h1.0M100.7 156.1h1.0M86.2 144.8h1.0M81.1 146.8h1.0M92.6 154.5h1.0M94.3 157.4h1.0M86.8 155.3h1.0M84.8 142.5h1.0M104.4 151.1h1.0M93.1 146.0h1.0M85.7 164.3h1.0M101.4 154.3h1.0M97.2 159.0h1.0M105.6 146.4h1.0M93.4 162.1h1.0M113.3 156.3h1.0M86.8 161.8h1.0M88.8 168.0h1.0M98.7 148.8h1.0M93.3 162.8h1.0M111.8 149.6h1.0M86.2 151.7h1.0M93.6 155.2h1.0M101.8 148.1h1.0M104.6 146.7h1.0M108.3 149.8h1.0M102.7 159.7h1.0M118.4 142.2h1.0M95.7 155.8h1.0M101.2 141.3h1.0M107.0 150.6h1.0M97.1 162.9h1.0M97.2 160.2h1.0M95.8 158.4h1.0M94.3 151.5h1.0M90.1 150.0h1.0M95.0 154.5h1.0M86.6 148.9h1.0M102.9 142.3h1.0M86.2 166.2h1.0M117.2 138.3h1.0M114.1 160.1h1.0M109.0 138.1h1.0M97.9 157.1h1.0M94.7 146.5h1.0M110.0 149.7h1.0M101.2 144.6h1.0M104.4 151.3h1.0M93.5 154.6h1.0M108.7 145.6h1.0M92.8 160.0h1.0M100.5 164.0h1.0M85.0 155.2h1.0M94.1 162.2h1.0M103.8 151.8h1.0M95.8 154.6h1.0M106.3 133.8h1.0M99.0 148.3h1.0M110.1 134.8h1.0M79.1 160.0h1.0M104.4 149.2h1.0M86.5 161.6h1.0M107.0 159.5h1.0M90.5 153.9h1.0M94.2 159.1h1.0M104.6 163.4h1.0M96.7 155.7h1.0M103.6 152.9h1.0M92.2 160.2h1.0M102.1 140.7h1.0M108.7 142.9h1.0M102.3 154.4h1.0M81.0 165.6h1.0M105.1 143.7h1.0M100.0 150.5h1.0M91.9 155.6h1.0M111.3 146.7h1.0M84.8 165.0h1.0M115.4 146.8h1.0M94.2 156.8h1.0M112.9 136.5h1.0M99.2 145.4h1.0M88.3 160.6h1.0M100.3 140.7h1.0M102.4 153.9h1.0M104.1 146.1h1.0M108.5 142.9h1.0M91.9 161.4h1.0M103.7 146.1h1.0M105.8 143.8h1.0M97.2 149.0h1.0M91.6 157.1h1.0M105.9 134.3h1.0M106.3 149.9h1.0M92.5 154.4h1.0M88.2 165.3h1.0M110.0 145.6h1.0M86.4 140.4h1.0M100.9 162.4h1.0M92.7 147.9h1.0M84.7 159.3h1.0M100.6 142.3h1.0M97.9 145.5h1.0M111.7 143.8h1.0M118.8 150.9h1.0M97.9 160.1h1.0M108.2 144.6h1.0M108.4 152.8h1.0M95.1 152.2h1.0M92.2 157.2h1.0M113.2 148.1h1.0M96.4 159.1h1.0M99.3 148.5h1.0M97.1 153.1h1.0M98.4 155.2h1.0M94.4 156.0h1.0M105.9 144.2h1.0M110.1 161.2h1.0M96.4 151.0h1.0M87.8 164.0h1.0M100.0 154.4h1.0M86.9 167.9h1.0M94.1 139.0h1.0M109.9 163.8h1.0M119.2 142.6h1.0M102.7 142.3h1.0M90.5 158.0h1.0M106.1 167.1h1.0M80.5 165.4h1.0M93.6 146.4h1.0M112.4 143.7h1.0M105.8 160.2h1.0M87.8 147.7h1.0M85.5 158.0h1.0M106.8 147.5h1.0M99.1 169.5h1.0M94.5 153.0h1.0M103.0 161.3h1.0M94.7 150.1h1.0M83.3 154.2h1.0M106.4 157.5h1.0M94.0 160.1h1.0M91.0 143.8h1.0M88.2 162.9h1.0M101.6 156.9h1.0M92.7 151.4h1.0M104.8 152.3h1.0M97.3 156.0h1.0M108.7 145.2h1.0M96.3 150.0h1.0M94.0 150.4h1.0M82.9 158.4h1.0M90.2 147.1h1.0M105.6 149.9h1.0M88.9 158.3h1.0M90.8 156.3h1.0M102.4 143.9h1.0M103.6 157.6h1.0M93.8 170.1h1.0M100.2 162.7h1.0M85.9 148.8h1.0M97.0 163.7h1.0M107.1 151.2h1.0M113.4 146.3h1.0M98.1 149.1h1.0M97.3 153.9h1.0M103.4 161.7h1.0M108.9 152.8h1.0M103.7 148.0h1.0M93.2 150.8h1.0M102.5 148.5h1.0M107.7 153.7h1.0M93.5 169.7h1.0M88.2 150.1h1.0M103.8 151.0h1.0M102.6 148.7h1.0M107.7 143.6h1.0M100.3 155.6h1.0M94.1 159.6h1.0M95.8 143.9h1.0M90.8 149.1h1.0M91.5 165.5h1.0M94.8 157.5h1.0M95.5 158.7h1.0M109.0 144.9h1.0M89.2 154.7h1.0M99.2 156.6h1.0M94.6 151.4h1.0M112.1 138.9h1.0M101.8 151.9h1.0M96.4 161.2h1.0M106.5 142.1h1.0M100.1 160.6h1.0M95.6 160.0h1.0M112.6 140.6h1.0M105.6 150.3h1.0M114.2 146.0h1.0M109.4 153.3h1.0M106.1 155.0h1.0M100.7 142.6h1.0M90.4 146.9h1.0M105.6 158.0h1.0M100.2 153.5h1.0M105.3 153.5h1.0M99.5 155.5h1.0M93.8 167.1h1.0M91.1 147.7h1.0M105.5 158.4h1.0M110.5 141.8h1.0M97.2 159.5h1.0M103.5 161.3h1.0M111.3 137.3h1.0M92.6 159.1h1.0M96.8 152.1h1.0M90.2 155.0h1.0M109.6 148.7h1.0M101.9 144.0h1.0M95.7 147.4h1.0M85.7 164.1h1.0M98.1 159.9h1.0M108.1 144.8h1.0M97.1 143.1h1.0M105.1 158.7h1.0M89.2 160.3h1.0M100.1 145.0h1.0M104.7 146.3h1.0M93.1 157.7h1.0M92.7 148.8h1.0M101.8 164.0h1.0M98.8 154.3h1.0M97.7 156.7h1.0M101.4 144.4h1.0M101.5 145.2h1.0M91.9 150.5h1.0M94.0 157.5h1.0M103.5 149.2h1.0M109.1 146.5h1.0M111.1 150.1h1.0M92.5 157.8h1.0M108.9 159.8h1.0M106.1 148.5h1.0M99.4 145.4h1.0M103.8 150.9h1.0M106.7 160.7h1.0M114.8 142.0h1.0M90.8 157.2h1.0M104.8 147.9h1.0M98.5 156.4h1.0M98.0 155.6h1.0M109.4 142.5h1.0M106.6 148.1h1.0M91.2 163.8h1.0M97.3 162.1h1.0M101.6 158.9h1.0M87.8 164.7h1.0M107.0 147.1h1.0M99.1 150.4h1.0M101.1 159.2h1.0M102.6 142.8h1.0M114.9 145.6h1.0M100.0 138.9h1.0M96.7 151.4h1.0M114.4 141.0h1.0M95.5 145.8h1.0M95.3 159.2h1.0M88.1 152.6h1.0M108.8 146.0h1.0M102.0 149.9h1.0M103.7 145.6h1.0M101.1 162.8h1.0M98.6 149.7h1.0M93.1 157.3h1.0M93.2 146.1h1.0M103.4 147.7h1.0M100.8 150.0h1.0M113.5 144.4h1.0M93.4 151.4h1.0M95.7 155.8h1.0M91.2 168.3h1.0M111.3 146.7h1.0M89.4 156.5h1.0M106.2 147.0h1.0M111.9 166.3h1.0M98.6 165.4h1.0M105.9 154.3h1.0M81.9 166.2h1.0M96.5 149.0h1.0M85.8 158.0h1.0M101.2 153.8h1.0M99.8 153.7h1.0M93.3 149.4h1.0M107.7 143.5h1.0M102.8 155.4h1.0M95.4 157.2h1.0M95.5 139.1h1.0M87.4 159.1h1.0M98.2 163.0h1.0M117.6 140.0h1.0M93.8 157.3h1.0M103.3 140.4h1.0M95.2 161.1h1.0M106.5 141.5h1.0M103.5 141.9h1.0M97.8 151.4h1.0M95.5 150.3h1.0M109.9 138.9h1.0M97.7 157.2h1.0M105.1 152.2h1.0M95.7 167.0h1.0M84.1 150.5h1.0M103.4 139.4h1.0M102.5 149.3h1.0M94.9 157.9h1.0M96.7 156.9h1.0M102.2 159.8h1.0M94.8 144.0h1.0M102.7 145.4h1.0M98.1 152.7h1.0M80.0 168.0h1.0M98.6 157.0h1.0M94.8 152.0h1.0M92.8 148.4h1.0M103.2 157.9h1.0M95.7 161.8h1.0M109.0 147.4h1.0M101.0 164.4h1.0M86.8 149.7h1.0M93.7 151.6h1.0M107.5 144.4h1.0M97.6 150.4h1.0M93.0 149.4h1.0M99.1 149.2h1.0M104.0 150.6h1.0M102.0 148.5h1.0M105.2 155.3h1.0M92.9 155.4h1.0M97.5 153.9h1.0M97.7 164.8h1.0M99.6 155.3h1.0M82.2 161.9h1.0M97.8 153.6h1.0M88.6 158.4h1.0M111.5 151.9h1.0M112.9 141.0h1.0M114.0 155.0h1.0M106.6 161.5h1.0M95.8 163.3h1.0M107.9 145.6h1.0M98.1 141.8h1.0M105.0 147.3h1.0M92.3 157.4h1.0M94.9 161.2h1.0M103.7 149.7h1.0M114.7 143.9h1.0M99.6 164.3h1.0M118.8 139.3h1.0M89.1 164.4h1.0M99.6 143.1h1.0M91.9 158.5h1.0M98.7 149.2h1.0M95.4 147.8h1.0M99.3 139.3h1.0M108.0 137.5h1.0M107.7 152.4h1.0M102.0 149.0h1.0M99.9 154.9h1.0M100.9 144.5h1.0M100.9 150.0h1.0M104.7 148.7h1.0M99.9 141.3h1.0M104.1 138.6h1.0M88.9 161.1h1.0M106.5 150.9h1.0M114.6 139.3h1.0M101.4 151.4h1.0M88.0 163.1h1.0M111.2 161.3h1.0M97.1 147.5h1.0M98.0 169.4h1.0M105.0 151.0h1.0M103.1 162.3h1.0M105.1 161.3h1.0M100.9 152.3h1.0M52.5 141.6h1.0M58.3 159.3h1.0M74.5 144.9h1.0M52.3 165.5h1.0M48.0 160.1h1.0M65.4 155.7h1.0M49.2 168.1h1.0M62.7 144.0h1.0M53.6 149.3h1.0M47.0 155.2h1.0M65.8 169.0h1.0M68.6 142.4h1.0M55.4 158.1h1.0M50.7 167.6h1.0M75.3 144.3h1.0M53.3 161.1h1.0M53.4 160.7h1.0M57.0 150.8h1.0M53.2 156.1h1.0M53.4 168.1h1.0M73.7 154.0h1.0M48.5 153.7h1.0M71.0 156.9h1.0M62.0 141.0h1.0M47.1 164.3h1.0M50.5 141.5h1.0M65.7 169.4h1.0M62.8 169.1h1.0M53.3 164.6h1.0M54.7 166.9h1.0M73.8 158.5h1.0M68.1 149.2h1.0M65.9 158.1h1.0M73.7 160.4h1.0M52.9 144.2h1.0M55.9 163.2h1.0M71.1 149.1h1.0M59.2 155.4h1.0M59.4 148.0h1.0M70.3 148.5h1.0M76.0 166.3h1.0M72.6 163.1h1.0M69.1 141.9h1.0M59.4 163.1h1.0M67.2 167.7h1.0M52.8 161.1h1.0M53.6 160.8h1.0M52.1 147.9h1.0M66.5 161.0h1.0M74.4 151.4h1.0M68.7 167.7h1.0M54.0 161.1h1.0M65.8 149.7h1.0M56.5 166.5h1.0M70.7 163.2h1.0M60.6 146.0h1.0M53.5 146.4h1.0M54.7 140.4h1.0M48.6 163.1h1.0M56.8 142.6h1.0M56.2 148.3h1.0M59.7 162.1h1.0M65.7 149.2h1.0M73.9 148.6h1.0M70.5 142.0h1.0M63.2 141.5h1.0M56.8 157.2h1.0M51.1 144.2h1.0M63.7 168.9h1.0M47.9 140.8h1.0M89.6 125.4h1.0M83.9 125.3h1.0M114.7 137.8h1.0M108.3 137.1h1.0M80.8 129.5h1.0M78.4 126.3h1.0M79.6 133.3h1.0M107.8 122.8h1.0M108.1 135.7h1.0M103.2 122.1h1.0M97.0 122.8h1.0M95.9 127.3h1.0M101.6 129.3h1.0M80.7 122.1h1.0M110.2 126.6h1.0M109.4 137.7h1.0M105.3 134.4h1.0M86.1 122.9h1.0M85.2 136.0h1.0M118.1 129.5h1.0M116.8 137.8h1.0M108.2 127.1h1.0M109.8 127.0h1.0M95.7 132.9h1.0M113.7 129.8h1.0M105.7 126.4h1.0M94.8 130.4h1.0M105.3 132.2h1.0M79.4 127.0h1.0M93.0 135.2h1.0M112.3 134.0h1.0M96.6 134.0h1.0M99.9 132.6h1.0M100.1 125.7h1.0M116.5 133.3h1.0M84.6 124.8h1.0M105.3 124.3h1.0M95.3 130.1h1.0M86.1 124.8h1.0M78.1 124.0h1.0M102.2 131.5h1.0M83.9 137.6h1.0M101.0 122.9h1.0M94.5 129.1h1.0M93.4 123.4h1.0M114.2 130.6h1.0M79.9 131.2h1.0M100.1 129.8h1.0M93.8 122.6h1.0M82.5 133.2h1.0M93.0 130.1h1.0M113.3 131.2h1.0M84.5 132.7h1.0M105.2 136.5h1.0M87.5 129.0h1.0M98.3 136.6h1.0M99.7 124.8h1.0M79.1 129.3h1.0M110.7 124.8h1.0M92.3 128.0h1.0M82.3 120.4h1.0M83.6 120.4h1.0M74.5 120.1h1.0M71.0 118.7h1.0M71.8 118.3h1.0M82.2 120.6h1.0M73.9 120.7h1.0M69.6 119.0h1.0M81.0 119.2h1.0M75.2 119.2h1.0M73.7 118.8h1.0M82.3 120.8h1.0M79.4 119.6h1.0M66.3 120.1h1.0M83.4 119.8h1.0M74.2 118.3h1.0M69.2 118.2h1.0M82.4 118.4h1.0M73.6 119.5h1.0M78.3 119.9h1.0M79.5 121.0h1.0M69.5 120.7h1.0M83.7 120.2h1.0M76.1 119.2h1.0M67.0 119.0h1.0M75.7 120.1h1.0M66.3 119.0h1.0M83.6 120.3h1.0M78.0 120.2h1.0M72.8 118.4h1.0" stroke="#000" stroke-opacity="0.68" stroke-width="1" fill="none"/>
<text class="tk" x="44.3" y="179.6" font-size="4.3" text-anchor="middle" fill="#111">10<tspan dy="-1.8" font-size="3.2">0</tspan></text>
<text class="tk" transform="translate(40.0 172.1) rotate(-90)" font-size="4.3" text-anchor="middle" fill="#111">10<tspan dy="-1.8" font-size="3.2">0</tspan></text>
<text class="tk" x="63.4" y="179.6" font-size="4.3" text-anchor="middle" fill="#111">10<tspan dy="-1.8" font-size="3.2">1</tspan></text>
<text class="tk" transform="translate(40.0 154.7) rotate(-90)" font-size="4.3" text-anchor="middle" fill="#111">10<tspan dy="-1.8" font-size="3.2">1</tspan></text>
<text class="tk" x="82.5" y="179.6" font-size="4.3" text-anchor="middle" fill="#111">10<tspan dy="-1.8" font-size="3.2">2</tspan></text>
<text class="tk" transform="translate(40.0 137.3) rotate(-90)" font-size="4.3" text-anchor="middle" fill="#111">10<tspan dy="-1.8" font-size="3.2">2</tspan></text>
<text class="tk" x="101.7" y="179.6" font-size="4.3" text-anchor="middle" fill="#111">10<tspan dy="-1.8" font-size="3.2">3</tspan></text>
<text class="tk" transform="translate(40.0 119.9) rotate(-90)" font-size="4.3" text-anchor="middle" fill="#111">10<tspan dy="-1.8" font-size="3.2">3</tspan></text>
<text class="tk" x="120.8" y="179.6" font-size="4.3" text-anchor="middle" fill="#111">10<tspan dy="-1.8" font-size="3.2">4</tspan></text>
<text class="tk" transform="translate(40.0 102.5) rotate(-90)" font-size="4.3" text-anchor="middle" fill="#111">10<tspan dy="-1.8" font-size="3.2">4</tspan></text>
<path d="M225.2 115.4h1.0M215.4 112.4h1.0M213.3 115.1h1.0M211.6 114.4h1.0M221.4 117.3h1.0M217.4 112.4h1.0M221.4 116.7h1.0M218.7 115.6h1.0M234.7 112.0h1.0M216.8 117.1h1.0M204.9 116.8h1.0M221.1 111.2h1.0M220.2 119.4h1.0M221.4 111.7h1.0M207.7 112.2h1.0M229.1 113.7h1.0M220.0 116.4h1.0M219.9 115.9h1.0M207.9 114.3h1.0M223.9 117.9h1.0M219.7 115.5h1.0M230.8 118.0h1.0M217.0 121.5h1.0M210.6 115.0h1.0M221.2 108.1h1.0M213.1 113.4h1.0M223.5 111.8h1.0M211.8 114.7h1.0M219.2 114.7h1.0M218.5 111.4h1.0M220.0 111.6h1.0M216.2 113.8h1.0M213.9 114.0h1.0M219.8 108.0h1.0M215.7 116.9h1.0M221.4 114.6h1.0M218.1 114.5h1.0M202.7 115.2h1.0M219.7 111.9h1.0M231.0 114.4h1.0M222.6 117.1h1.0M224.9 117.2h1.0M223.8 115.7h1.0M216.6 113.8h1.0M209.9 112.4h1.0M226.5 117.8h1.0M228.4 115.8h1.0M224.6 113.4h1.0M223.5 109.0h1.0M223.3 112.3h1.0M220.0 109.6h1.0M222.3 117.6h1.0M220.3 115.0h1.0M222.7 112.6h1.0M212.9 113.8h1.0M215.3 121.1h1.0M224.6 117.6h1.0M217.6 111.1h1.0M201.5 114.2h1.0M221.2 111.4h1.0M202.6 110.1h1.0M235.0 114.9h1.0M225.8 120.6h1.0M225.4 118.5h1.0M215.1 114.6h1.0M211.5 113.5h1.0M218.6 115.0h1.0M220.4 117.1h1.0M214.3 110.8h1.0M221.5 109.7h1.0M225.5 119.3h1.0M224.9 115.2h1.0M212.3 118.6h1.0M203.6 115.1h1.0M220.3 118.3h1.0M215.2 112.9h1.0M223.7 115.8h1.0M232.9 118.5h1.0M232.9 117.1h1.0M222.5 113.3h1.0M228.8 116.8h1.0M232.9 112.8h1.0M220.6 110.8h1.0M222.4 115.8h1.0M226.8 118.1h1.0M220.0 116.7h1.0M216.5 111.3h1.0M214.5 116.7h1.0M220.4 116.2h1.0M215.5 113.3h1.0M226.4 108.1h1.0M217.8 117.1h1.0M231.5 116.8h1.0M229.6 115.8h1.0M210.8 110.0h1.0M228.6 110.7h1.0M217.3 117.1h1.0M230.8 116.6h1.0M224.3 115.8h1.0M220.0 113.9h1.0M225.5 115.5h1.0M216.1 113.1h1.0M222.9 113.7h1.0M223.3 112.3h1.0M219.3 115.2h1.0M223.3 113.4h1.0M212.8 117.0h1.0M224.7 116.4h1.0M211.2 112.4h1.0M225.2 119.2h1.0M224.0 111.6h1.0M225.8 115.7h1.0M216.2 117.3h1.0M218.7 108.8h1.0M221.6 117.1h1.0M214.7 117.7h1.0M231.4 118.2h1.0M216.9 108.7h1.0M228.0 112.7h1.0M213.3 114.2h1.0M222.9 113.3h1.0M217.7 118.0h1.0M227.6 112.7h1.0M218.3 117.7h1.0M214.0 116.0h1.0M224.0 110.7h1.0M211.5 111.9h1.0M213.3 113.3h1.0M226.4 114.8h1.0M206.3 117.1h1.0M226.3 114.0h1.0M217.5 116.9h1.0M213.6 110.4h1.0M222.4 106.6h1.0M225.4 113.6h1.0M216.2 115.7h1.0M219.3 113.6h1.0M226.7 111.9h1.0M226.3 115.6h1.0M220.2 119.5h1.0M214.8 114.2h1.0M213.5 112.6h1.0M216.1 112.3h1.0M225.8 119.6h1.0M225.0 114.4h1.0M223.0 116.1h1.0M231.2 117.7h1.0M218.4 117.3h1.0M217.8 112.1h1.0M217.8 117.0h1.0M235.1 116.7h1.0M205.1 115.8h1.0M222.9 117.1h1.0M224.1 113.0h1.0M221.2 114.3h1.0M238.4 113.1h1.0M229.6 116.5h1.0M226.6 112.8h1.0M214.0 115.5h1.0M224.5 111.7h1.0M218.0 114.2h1.0M221.1 113.6h1.0M222.3 114.2h1.0M217.1 114.8h1.0M225.6 114.0h1.0M233.1 113.9h1.0M228.6 109.1h1.0M222.4 117.4h1.0M206.2 112.9h1.0M229.0 113.9h1.0M228.9 112.3h1.0M219.4 117.1h1.0M217.2 112.1h1.0M225.8 115.8h1.0M214.8 117.6h1.0M226.9 118.8h1.0M212.7 117.6h1.0M213.9 116.1h1.0M221.0 111.4h1.0M209.9 117.9h1.0M220.9 117.6h1.0M224.9 116.7h1.0M211.0 116.6h1.0M227.9 114.7h1.0M216.7 113.2h1.0M225.0 117.3h1.0M222.5 117.8h1.0M217.5 111.8h1.0M217.0 116.9h1.0M208.1 115.2h1.0M215.7 116.8h1.0M215.1 115.2h1.0M233.3 117.4h1.0M228.6 117.2h1.0M210.6 116.8h1.0M226.9 111.0h1.0M222.6 116.7h1.0M218.1 114.7h1.0M224.4 111.6h1.0M226.9 116.4h1.0M216.7 111.0h1.0M218.9 116.9h1.0M222.2 118.9h1.0M213.6 113.2h1.0M222.3 116.9h1.0M220.3 115.7h1.0M215.9 116.2h1.0M214.6 111.1h1.0M223.2 116.1h1.0M227.5 114.9h1.0M223.4 116.5h1.0M214.6 114.6h1.0M226.6 117.4h1.0M222.2 115.3h1.0M225.4 116.3h1.0M229.7 118.1h1.0M214.2 115.0h1.0M219.9 117.1h1.0M216.5 115.2h1.0M214.4 115.9h1.0M236.0 113.2h1.0M228.0 116.6h1.0M207.8 117.7h1.0M224.2 114.4h1.0M216.8 116.6h1.0M229.6 115.7h1.0M221.6 111.7h1.0M219.7 115.5h1.0M222.0 118.0h1.0M223.9 113.3h1.0M221.2 110.0h1.0M219.3 115.1h1.0M220.0 112.9h1.0M224.8 119.5h1.0M212.5 114.5h1.0M221.0 114.6h1.0M220.1 113.0h1.0M217.4 115.2h1.0M226.5 113.1h1.0M211.3 112.3h1.0M218.3 114.4h1.0M214.6 112.5h1.0M225.1 118.0h1.0M217.5 111.6h1.0M221.4 114.4h1.0M223.9 112.8h1.0M209.1 111.1h1.0M224.4 118.8h1.0M215.4 109.2h1.0M219.1 118.3h1.0M220.2 111.0h1.0M227.0 114.8h1.0M226.5 120.4h1.0M234.2 109.2h1.0M222.3 111.1h1.0M217.4 117.9h1.0M217.2 115.0h1.0M225.9 113.2h1.0M233.0 114.5h1.0M223.5 112.1h1.0M216.7 114.9h1.0M223.0 118.4h1.0M222.9 113.6h1.0M221.2 114.9h1.0M215.4 117.7h1.0M202.0 119.7h1.0M217.0 113.1h1.0M228.9 115.4h1.0M222.6 113.2h1.0M204.5 112.9h1.0M221.0 113.6h1.0M207.2 113.0h1.0M235.9 110.2h1.0M222.4 109.5h1.0M212.0 112.7h1.0M227.0 114.9h1.0M215.2 117.7h1.0M225.2 113.2h1.0M221.2 114.2h1.0M212.2 116.3h1.0M226.0 116.5h1.0M211.0 114.3h1.0M231.0 114.5h1.0M221.5 119.4h1.0M213.3 113.7h1.0M207.5 113.3h1.0M233.1 110.5h1.0M231.8 115.7h1.0M211.6 113.9h1.0M233.3 119.5h1.0M222.2 113.7h1.0M219.3 116.7h1.0M220.4 117.0h1.0M219.0 118.8h1.0M231.7 111.3h1.0M222.1 118.6h1.0M207.2 114.6h1.0M236.6 114.3h1.0M227.6 113.8h1.0M212.9 113.6h1.0M218.3 113.7h1.0M214.2 108.7h1.0M221.3 115.9h1.0M223.9 114.8h1.0M222.8 112.2h1.0M216.5 114.4h1.0M215.0 120.4h1.0M227.3 115.6h1.0M220.2 113.6h1.0M237.8 118.9h1.0M215.0 112.6h1.0M226.9 114.2h1.0M221.4 113.2h1.0M215.3 114.0h1.0M231.2 116.4h1.0M221.9 116.1h1.0M214.3 112.7h1.0M218.6 114.3h1.0M228.6 114.8h1.0M211.8 113.6h1.0M231.3 114.5h1.0M226.1 112.8h1.0M218.9 112.7h1.0M231.1 114.7h1.0M234.1 112.0h1.0M225.5 115.6h1.0M222.3 114.1h1.0M234.8 112.2h1.0M232.2 113.0h1.0M214.1 113.4h1.0M219.5 114.2h1.0M219.4 114.9h1.0M217.9 114.1h1.0M209.8 112.4h1.0M227.8 118.2h1.0M221.6 116.9h1.0M221.7 114.9h1.0M231.6 117.0h1.0M216.8 115.4h1.0M220.6 113.9h1.0M223.1 114.8h1.0M217.8 121.3h1.0M220.2 117.1h1.0M226.7 117.2h1.0M220.9 113.6h1.0M231.0 116.1h1.0M215.4 120.3h1.0M222.5 115.7h1.0M210.3 117.3h1.0M220.1 117.8h1.0M215.7 116.2h1.0M231.2 118.6h1.0M226.6 115.2h1.0M224.8 115.8h1.0M234.9 113.0h1.0M231.9 121.2h1.0M226.4 115.3h1.0M215.8 114.9h1.0M210.1 118.1h1.0M220.8 113.3h1.0M218.3 114.6h1.0M216.1 112.6h1.0M218.8 114.6h1.0M208.5 113.6h1.0M232.2 115.9h1.0M212.4 114.3h1.0M215.9 113.1h1.0M225.3 113.8h1.0M208.7 114.3h1.0M227.9 113.3h1.0M228.1 116.9h1.0M218.6 116.3h1.0M212.9 114.9h1.0M217.4 111.6h1.0M207.0 115.9h1.0M231.5 111.4h1.0M221.4 115.0h1.0M215.4 114.7h1.0M214.1 113.1h1.0M225.3 112.5h1.0M232.4 112.8h1.0M211.4 119.7h1.0M216.7 113.9h1.0M207.7 114.1h1.0M226.1 117.0h1.0M222.2 115.6h1.0M238.1 117.2h1.0M220.1 111.5h1.0M217.7 111.8h1.0M215.6 122.9h1.0M227.5 114.5h1.0M208.7 113.8h1.0M226.7 115.0h1.0M222.9 117.1h1.0M217.2 111.6h1.0M214.2 115.3h1.0M229.0 114.5h1.0M235.1 116.3h1.0M217.6 115.0h1.0M225.0 113.2h1.0M234.2 112.4h1.0M216.3 108.5h1.0M219.1 117.0h1.0M211.7 110.9h1.0M219.9 113.6h1.0M220.4 118.7h1.0M217.8 113.5h1.0M215.4 116.1h1.0M209.0 114.0h1.0M210.8 116.3h1.0M213.6 114.6h1.0M225.9 113.3h1.0M217.1 118.0h1.0M214.5 113.9h1.0M226.0 111.2h1.0M225.3 113.7h1.0M215.3 115.9h1.0M216.2 111.8h1.0M226.0 116.5h1.0M223.5 153.0h1.0M234.6 145.6h1.0M212.0 156.9h1.0M222.6 139.8h1.0M203.6 163.7h1.0M213.8 158.4h1.0M218.1 150.5h1.0M220.5 154.4h1.0M216.8 163.2h1.0M216.5 152.6h1.0M212.2 161.2h1.0M213.6 151.5h1.0M219.7 157.7h1.0M221.8 158.2h1.0M222.4 169.4h1.0M225.3 157.8h1.0M226.9 154.0h1.0M213.0 152.8h1.0M215.9 164.2h1.0M212.0 156.2h1.0M225.8 148.0h1.0M223.3 160.2h1.0M216.3 158.7h1.0M218.2 164.5h1.0M227.5 141.8h1.0M214.4 160.0h1.0M214.7 154.9h1.0M224.6 150.8h1.0M221.0 142.5h1.0M228.8 156.1h1.0M220.2 156.4h1.0M223.3 147.1h1.0M212.8 150.8h1.0M209.6 155.6h1.0M217.1 165.6h1.0M195.6 168.3h1.0M220.5 152.8h1.0M225.1 155.4h1.0M217.8 156.5h1.0M215.4 159.2h1.0M226.1 156.4h1.0M216.9 159.0h1.0M225.2 157.8h1.0M235.1 139.2h1.0M223.1 153.8h1.0M224.9 150.2h1.0M221.2 155.2h1.0M219.3 155.4h1.0M219.5 151.5h1.0M217.8 154.3h1.0M226.0 157.8h1.0M204.1 160.7h1.0M215.0 150.2h1.0M222.6 157.5h1.0M210.4 166.8h1.0M216.4 155.6h1.0M211.6 160.8h1.0M220.8 149.5h1.0M224.3 151.6h1.0M229.0 157.1h1.0M221.3 159.6h1.0M211.4 161.1h1.0M219.3 154.0h1.0M221.9 144.0h1.0M228.7 152.3h1.0M199.8 169.6h1.0M220.2 161.8h1.0M223.0 155.9h1.0M220.8 160.8h1.0M221.3 147.6h1.0M224.4 160.4h1.0M220.4 160.5h1.0M212.0 168.4h1.0M220.1 159.5h1.0M227.0 154.2h1.0M216.3 166.7h1.0M217.5 152.6h1.0M207.4 166.5h1.0M226.6 158.3h1.0M213.1 154.3h1.0M211.2 153.1h1.0M213.6 161.7h1.0M210.2 161.6h1.0M215.2 161.9h1.0M227.6 155.1h1.0M223.7 148.5h1.0M228.8 152.5h1.0M229.3 157.1h1.0M210.0 158.8h1.0M221.1 152.9h1.0M229.4 143.0h1.0M235.9 151.5h1.0M205.7 154.9h1.0M221.0 159.6h1.0M214.5 164.1h1.0M209.2 158.0h1.0M220.3 152.9h1.0M210.8 154.0h1.0M198.8 162.5h1.0M217.0 158.1h1.0M218.2 160.5h1.0M222.4 154.8h1.0M224.8 158.0h1.0M218.7 157.4h1.0M215.3 150.8h1.0M211.8 169.1h1.0M213.6 154.6h1.0M225.3 163.5h1.0M222.5 156.9h1.0M233.8 148.4h1.0M216.0 169.7h1.0M202.7 149.6h1.0M223.9 143.2h1.0M225.6 156.7h1.0M207.7 160.8h1.0M204.1 158.5h1.0M218.4 165.7h1.0M223.0 156.8h1.0M208.1 154.2h1.0M214.4 154.5h1.0M210.9 165.9h1.0M206.5 150.6h1.0M218.3 158.0h1.0M214.1 156.4h1.0M211.7 149.2h1.0M196.0 168.0h1.0M231.3 139.1h1.0M209.5 158.1h1.0M216.0 167.8h1.0M207.9 165.5h1.0M220.2 160.2h1.0M204.9 167.8h1.0M217.9 158.9h1.0M215.6 164.0h1.0M224.6 145.6h1.0M208.2 159.9h1.0M211.9 165.4h1.0M215.2 153.7h1.0M234.1 144.8h1.0M219.5 165.4h1.0M211.8 156.4h1.0M219.6 150.6h1.0M222.4 157.8h1.0M218.3 158.2h1.0M219.2 151.8h1.0M219.4 159.6h1.0M212.3 163.3h1.0M215.3 158.7h1.0M214.2 167.3h1.0M210.9 165.8h1.0M215.0 164.8h1.0M220.2 162.3h1.0M220.9 150.6h1.0M226.0 154.2h1.0M197.7 168.6h1.0M220.6 151.7h1.0M216.9 159.0h1.0M216.3 159.2h1.0M206.5 162.9h1.0M221.5 151.7h1.0M226.4 157.1h1.0M225.4 142.5h1.0M216.4 162.8h1.0M222.2 154.4h1.0M224.5 154.7h1.0M231.8 134.0h1.0M227.0 162.1h1.0M218.2 145.8h1.0M217.8 151.4h1.0M218.4 160.5h1.0M218.9 152.4h1.0M213.0 157.0h1.0M223.3 139.7h1.0M211.4 157.7h1.0M210.5 162.2h1.0M219.9 159.9h1.0M212.4 158.1h1.0M215.1 159.7h1.0M200.2 169.5h1.0M223.5 149.4h1.0M217.0 152.6h1.0M216.0 170.1h1.0M220.8 149.8h1.0M218.7 164.0h1.0M211.4 160.9h1.0M233.3 157.3h1.0M213.4 155.3h1.0M224.9 156.0h1.0M231.9 151.0h1.0M212.0 158.7h1.0M217.8 158.8h1.0M210.4 156.2h1.0M225.5 152.0h1.0M214.3 156.3h1.0M208.1 167.1h1.0M227.7 150.7h1.0M224.5 144.3h1.0M209.8 159.0h1.0M226.6 151.2h1.0M218.6 150.7h1.0M230.9 152.0h1.0M212.5 165.1h1.0M214.8 153.7h1.0M209.9 158.8h1.0M218.1 163.0h1.0M217.4 148.1h1.0M223.0 156.2h1.0M217.7 157.4h1.0M205.1 160.9h1.0M210.4 161.6h1.0M228.5 144.1h1.0M226.4 153.4h1.0M215.7 150.4h1.0M215.9 149.9h1.0M215.6 166.8h1.0M217.2 152.8h1.0M203.4 151.7h1.0M224.3 159.3h1.0M211.7 155.4h1.0M218.2 134.5h1.0M196.5 168.5h1.0M218.9 162.0h1.0M227.9 153.4h1.0M229.3 149.5h1.0M220.8 158.9h1.0M211.1 154.3h1.0M204.1 165.6h1.0M226.4 161.6h1.0M219.1 159.3h1.0M221.8 155.6h1.0M214.8 146.1h1.0M210.5 158.6h1.0M224.1 145.2h1.0M209.3 166.6h1.0M224.3 148.5h1.0M203.4 167.2h1.0M209.5 155.2h1.0M227.6 143.9h1.0M202.8 166.2h1.0M222.4 155.6h1.0M218.9 150.8h1.0M234.8 151.1h1.0M232.0 155.1h1.0M222.0 160.0h1.0M222.6 141.7h1.0M202.2 167.0h1.0M209.8 147.9h1.0M214.3 170.8h1.0M215.6 158.6h1.0M205.8 160.7h1.0M209.4 165.8h1.0M210.1 164.3h1.0M225.6 145.0h1.0M220.5 165.6h1.0M214.3 157.3h1.0M214.8 147.5h1.0M219.4 164.8h1.0M211.3 170.2h1.0M214.9 166.4h1.0M203.0 168.7h1.0M222.4 148.6h1.0M224.8 158.8h1.0M219.9 167.4h1.0M220.9 160.3h1.0M220.0 165.8h1.0M233.6 143.0h1.0M218.7 162.8h1.0M206.2 169.3h1.0M208.5 152.7h1.0M222.8 143.8h1.0M225.7 147.9h1.0M223.3 154.3h1.0M223.8 156.3h1.0M218.5 155.0h1.0M204.9 163.8h1.0M211.2 159.9h1.0M202.3 166.2h1.0M213.8 162.8h1.0M205.9 166.7h1.0M217.8 156.6h1.0M215.6 159.8h1.0M201.1 163.4h1.0M222.9 159.0h1.0M223.2 150.7h1.0M218.1 156.5h1.0M222.8 155.8h1.0M214.6 153.9h1.0M223.9 151.2h1.0M218.5 157.5h1.0M225.7 152.5h1.0M218.5 152.6h1.0M215.6 150.8h1.0M221.1 155.3h1.0M223.3 154.7h1.0M219.0 159.7h1.0M213.3 167.4h1.0M210.5 159.0h1.0M213.9 146.4h1.0M212.2 159.1h1.0M218.6 144.7h1.0M218.3 148.4h1.0M216.2 164.3h1.0M216.9 161.0h1.0M218.3 152.5h1.0M229.7 146.1h1.0M226.7 151.3h1.0M212.2 148.9h1.0M220.3 158.5h1.0M214.2 156.7h1.0M216.1 169.6h1.0M214.9 151.8h1.0M211.8 166.7h1.0M205.7 159.4h1.0M218.5 150.3h1.0M226.6 156.6h1.0M209.5 158.8h1.0M221.0 149.8h1.0M213.7 158.3h1.0M219.1 159.2h1.0M210.3 163.7h1.0M215.0 168.6h1.0M215.9 163.2h1.0M197.4 151.7h1.0M218.6 153.9h1.0M215.7 145.4h1.0M196.5 166.5h1.0M222.2 158.4h1.0M216.6 149.1h1.0M218.5 149.0h1.0M219.8 156.7h1.0M213.4 157.5h1.0M213.2 161.6h1.0M213.3 162.8h1.0M235.0 158.3h1.0M232.0 145.7h1.0M212.8 159.7h1.0M213.4 153.1h1.0M219.5 157.6h1.0M221.4 161.5h1.0M211.1 169.4h1.0M208.6 161.9h1.0M232.7 144.0h1.0M225.5 147.7h1.0M204.0 155.8h1.0M202.3 166.5h1.0M210.0 170.0h1.0M218.6 141.3h1.0M221.3 141.1h1.0M214.0 168.0h1.0M203.5 154.7h1.0M218.6 158.6h1.0M221.7 146.7h1.0M216.8 162.5h1.0M212.7 164.8h1.0M221.5 155.9h1.0M216.3 163.1h1.0M207.5 163.1h1.0M217.5 160.7h1.0M224.7 160.1h1.0M220.6 151.2h1.0M208.5 157.1h1.0M218.5 155.0h1.0M227.1 150.3h1.0M199.0 168.0h1.0M215.6 154.3h1.0M230.4 154.0h1.0M203.9 165.1h1.0M215.4 160.7h1.0M205.0 164.3h1.0M216.2 161.8h1.0M196.9 161.1h1.0M212.3 162.3h1.0M217.9 159.8h1.0M219.9 159.7h1.0M220.3 162.5h1.0M226.3 156.9h1.0M222.5 155.8h1.0M222.9 153.0h1.0M208.6 151.7h1.0M215.4 159.7h1.0M235.6 145.0h1.0M223.6 169.1h1.0M222.9 142.2h1.0M225.0 153.3h1.0M213.4 167.3h1.0M233.0 154.6h1.0M213.6 167.3h1.0M216.1 149.9h1.0M234.9 141.2h1.0M199.4 171.4h1.0M219.8 154.0h1.0M211.3 162.2h1.0M216.0 159.3h1.0M213.8 162.1h1.0M218.2 155.1h1.0M210.3 162.0h1.0M215.9 153.8h1.0M206.8 163.0h1.0M213.5 156.4h1.0M205.2 165.8h1.0M222.2 145.5h1.0M205.9 154.2h1.0M222.5 157.3h1.0M213.3 161.1h1.0M214.2 152.9h1.0M226.6 150.6h1.0M217.7 150.5h1.0M220.9 145.3h1.0M219.0 151.2h1.0M213.4 162.3h1.0M205.0 162.6h1.0M217.4 154.9h1.0M214.2 165.1h1.0M233.6 153.4h1.0M213.1 157.9h1.0M233.1 142.7h1.0M228.4 164.4h1.0M211.6 169.6h1.0M209.9 162.5h1.0M227.8 149.5h1.0M215.6 160.2h1.0M218.1 157.5h1.0M214.6 166.6h1.0M206.6 157.3h1.0M213.6 159.6h1.0M208.7 157.3h1.0M214.3 170.6h1.0M231.8 148.6h1.0M230.4 153.5h1.0M216.2 167.0h1.0M217.9 155.2h1.0M221.1 149.3h1.0M228.2 157.9h1.0M219.4 159.4h1.0M212.7 158.7h1.0M213.4 168.9h1.0M226.3 153.8h1.0M238.7 133.9h1.0M211.5 162.9h1.0M199.4 167.1h1.0M223.6 165.9h1.0M216.1 158.0h1.0M217.9 155.7h1.0M227.2 154.6h1.0M217.3 159.0h1.0M205.5 155.0h1.0M200.2 167.9h1.0M216.3 155.9h1.0M206.0 156.7h1.0M213.8 153.2h1.0M204.3 159.4h1.0M213.7 155.3h1.0M213.0 155.4h1.0M221.8 155.2h1.0M228.1 158.3h1.0M215.2 150.3h1.0M209.5 152.0h1.0M233.3 136.6h1.0M219.8 163.1h1.0M221.9 163.3h1.0M221.9 145.0h1.0M229.1 140.3h1.0M225.3 153.7h1.0M222.5 161.5h1.0M223.3 160.6h1.0M209.5 163.1h1.0M211.6 165.0h1.0M215.9 160.3h1.0M217.6 153.7h1.0M216.9 169.9h1.0M219.4 156.2h1.0M217.0 150.5h1.0M213.2 156.8h1.0M203.0 155.6h1.0M223.9 153.8h1.0M221.8 161.9h1.0M209.3 153.8h1.0M221.0 162.6h1.0M220.1 169.2h1.0M217.4 159.8h1.0M201.2 159.1h1.0M206.6 158.0h1.0M211.7 158.5h1.0M230.5 141.8h1.0M209.5 153.8h1.0M213.8 157.7h1.0M207.4 161.9h1.0M212.6 164.0h1.0M219.7 148.4h1.0M222.4 160.3h1.0M217.1 153.4h1.0M225.0 150.9h1.0M225.0 164.7h1.0M215.4 152.8h1.0M226.2 149.5h1.0M214.1 165.6h1.0M224.9 152.2h1.0M214.5 160.3h1.0M206.6 164.7h1.0M211.0 156.1h1.0M205.5 162.8h1.0M221.5 150.9h1.0M202.1 163.3h1.0M225.3 155.9h1.0M202.8 159.5h1.0M217.2 162.2h1.0M204.3 165.5h1.0M214.1 164.1h1.0M225.5 158.5h1.0M226.3 160.3h1.0M227.9 155.5h1.0M216.0 162.7h1.0M217.7 156.1h1.0M218.8 160.3h1.0M222.0 149.0h1.0M213.4 158.1h1.0M226.1 157.3h1.0M219.5 155.8h1.0M226.5 155.1h1.0M220.8 148.7h1.0M222.5 163.3h1.0M210.6 157.5h1.0M213.2 162.3h1.0M205.8 163.8h1.0M214.3 165.1h1.0M215.3 156.1h1.0M223.9 147.3h1.0M206.1 151.6h1.0M215.7 150.7h1.0M227.5 155.1h1.0M225.6 162.0h1.0M195.4 155.6h1.0M214.5 150.7h1.0M229.3 152.6h1.0M223.3 156.0h1.0M209.0 164.2h1.0M212.8 163.2h1.0M218.7 160.4h1.0M218.4 160.7h1.0M211.3 152.9h1.0M210.4 158.3h1.0M222.7 155.7h1.0M219.7 154.4h1.0M221.5 151.7h1.0M216.3 153.5h1.0M210.6 165.7h1.0M219.0 154.0h1.0M229.7 143.4h1.0M218.4 152.2h1.0M224.3 153.7h1.0M238.2 147.3h1.0M221.7 158.1h1.0M221.4 141.3h1.0M219.0 158.9h1.0M207.3 157.6h1.0M207.1 154.5h1.0M214.7 151.9h1.0M217.6 168.8h1.0M206.4 153.4h1.0M207.7 158.9h1.0M221.5 162.5h1.0M225.5 157.1h1.0M212.0 149.4h1.0M210.8 160.4h1.0M210.5 157.9h1.0M237.8 144.6h1.0M220.9 160.3h1.0M216.1 154.4h1.0M225.3 150.9h1.0M236.2 156.1h1.0M226.7 140.3h1.0M204.6 162.2h1.0M216.0 161.2h1.0M213.3 151.7h1.0M213.8 155.3h1.0M206.3 155.1h1.0M213.4 160.7h1.0M207.5 159.0h1.0M219.6 161.2h1.0M217.1 164.1h1.0M204.6 164.9h1.0M202.1 163.5h1.0M212.6 161.8h1.0M222.2 155.0h1.0M220.9 147.5h1.0M216.1 165.0h1.0M212.5 165.2h1.0M210.4 152.6h1.0M213.8 165.0h1.0M213.0 163.8h1.0M211.0 151.6h1.0M222.7 154.0h1.0M215.0 160.1h1.0M216.3 156.5h1.0M215.6 161.5h1.0M218.3 153.9h1.0M213.2 161.2h1.0M216.5 153.4h1.0M225.4 153.5h1.0M223.7 160.2h1.0M219.3 153.1h1.0M228.0 155.7h1.0M218.6 151.0h1.0M208.3 160.1h1.0M201.8 164.6h1.0M210.7 169.2h1.0M216.1 153.1h1.0M220.1 163.7h1.0M225.8 143.1h1.0M211.8 159.5h1.0M209.8 167.5h1.0M223.2 158.5h1.0M226.7 145.6h1.0M212.6 152.1h1.0M219.5 161.8h1.0M228.4 143.0h1.0M219.4 159.9h1.0M216.2 154.6h1.0M198.9 167.7h1.0M228.0 166.3h1.0M222.1 164.7h1.0M217.7 162.6h1.0M212.7 151.1h1.0M206.0 165.8h1.0M215.8 158.6h1.0M215.7 157.6h1.0M226.0 161.1h1.0M206.3 152.4h1.0M228.9 152.8h1.0M217.0 158.4h1.0M226.8 147.2h1.0M219.6 147.9h1.0M227.1 152.0h1.0M217.6 157.7h1.0M204.1 150.6h1.0M213.8 150.1h1.0M221.2 148.9h1.0M204.7 169.6h1.0M204.4 170.8h1.0M218.7 160.4h1.0M208.6 163.8h1.0M222.5 140.2h1.0M206.6 164.8h1.0M201.0 163.2h1.0M210.0 169.0h1.0M229.4 159.2h1.0M216.6 162.3h1.0M218.8 161.8h1.0M208.6 155.6h1.0M226.0 153.0h1.0M218.2 148.8h1.0M220.5 161.4h1.0M202.3 158.0h1.0M201.8 164.7h1.0M193.2 165.6h1.0M215.1 155.6h1.0M214.7 161.8h1.0M222.8 150.6h1.0M229.3 152.0h1.0M214.5 152.4h1.0M214.4 168.0h1.0M220.5 151.3h1.0M229.7 156.9h1.0M222.0 138.9h1.0M214.6 152.4h1.0M213.8 157.9h1.0M223.6 161.3h1.0M210.0 158.3h1.0M207.6 165.3h1.0M222.3 149.7h1.0M216.5 161.4h1.0M214.4 151.0h1.0M215.6 163.7h1.0M220.9 135.8h1.0M213.5 147.1h1.0M223.2 165.8h1.0M220.2 156.8h1.0M229.3 144.7h1.0M227.5 165.9h1.0M224.0 160.4h1.0M215.0 166.0h1.0M217.7 154.3h1.0M211.7 164.5h1.0M214.8 147.9h1.0M221.4 158.8h1.0M228.3 149.9h1.0M209.7 170.1h1.0M213.3 155.3h1.0M208.2 158.5h1.0M205.9 165.0h1.0M212.3 164.4h1.0M227.7 148.7h1.0M222.9 153.4h1.0M217.0 161.4h1.0M217.0 160.2h1.0M222.6 155.8h1.0M220.3 149.8h1.0M207.5 151.3h1.0M218.5 161.9h1.0M215.1 156.3h1.0M212.3 157.8h1.0M208.3 160.5h1.0M211.0 150.6h1.0M208.7 159.6h1.0M220.7 138.4h1.0M219.8 153.2h1.0M219.5 150.2h1.0M215.2 170.5h1.0M213.3 162.5h1.0M234.1 146.4h1.0M200.9 167.6h1.0M226.9 156.6h1.0M219.7 150.9h1.0M217.3 155.7h1.0M212.4 157.7h1.0M206.7 163.7h1.0M204.9 151.3h1.0M215.8 163.3h1.0M223.9 147.3h1.0M219.1 152.6h1.0M218.6 154.8h1.0M217.7 148.9h1.0M220.3 148.6h1.0M223.1 139.9h1.0M224.1 160.9h1.0M232.0 141.4h1.0M217.0 159.9h1.0M224.1 155.6h1.0M203.0 161.1h1.0M215.6 158.5h1.0M206.4 162.8h1.0M228.6 147.6h1.0M236.6 146.7h1.0M221.4 155.3h1.0M205.7 157.1h1.0M215.8 149.5h1.0M217.0 151.8h1.0M218.5 157.4h1.0M226.0 161.4h1.0M224.9 162.6h1.0M228.4 157.2h1.0M212.6 160.7h1.0M212.0 167.5h1.0M228.8 151.5h1.0M214.5 161.4h1.0M205.1 162.2h1.0M205.5 163.8h1.0M217.3 169.7h1.0M224.5 145.2h1.0M229.6 150.3h1.0M215.3 154.4h1.0M212.8 166.1h1.0M230.6 161.7h1.0M212.9 157.6h1.0M229.2 132.2h1.0M218.8 160.4h1.0M218.8 160.4h1.0M214.8 147.5h1.0M219.3 154.5h1.0M212.9 159.3h1.0M211.0 145.4h1.0M215.7 162.6h1.0M211.3 163.5h1.0M219.4 157.6h1.0M217.5 150.0h1.0M214.6 154.0h1.0M215.1 154.2h1.0M214.9 161.7h1.0M231.6 142.6h1.0M216.7 167.2h1.0M211.8 162.8h1.0M214.3 144.4h1.0M222.4 165.4h1.0M215.1 159.5h1.0M215.5 154.5h1.0M214.6 159.4h1.0M218.2 144.5h1.0M220.1 156.8h1.0M220.6 139.0h1.0M202.9 158.5h1.0M223.6 151.3h1.0M226.2 145.7h1.0M227.8 157.4h1.0M218.0 156.4h1.0M226.6 153.3h1.0M216.5 161.8h1.0M215.8 150.8h1.0M203.7 170.1h1.0M210.1 147.1h1.0M211.8 170.0h1.0M224.6 142.6h1.0M230.9 145.3h1.0M212.8 155.2h1.0M220.0 160.5h1.0M219.1 161.0h1.0M210.2 163.5h1.0M202.2 169.3h1.0M210.4 164.1h1.0M204.6 163.8h1.0M214.1 146.2h1.0M215.6 142.7h1.0M215.3 142.9h1.0M215.4 157.9h1.0M220.9 153.6h1.0M208.9 160.9h1.0M224.3 154.6h1.0M202.6 163.8h1.0M217.3 150.4h1.0M220.1 145.5h1.0M210.1 148.5h1.0M222.2 160.4h1.0M211.1 151.6h1.0M223.4 151.8h1.0M223.3 156.6h1.0M216.7 168.0h1.0M216.8 153.4h1.0M225.1 153.8h1.0M220.0 163.3h1.0M208.9 150.2h1.0M218.2 151.7h1.0M221.5 154.4h1.0M218.5 151.6h1.0M218.4 170.6h1.0M215.5 163.9h1.0M215.8 159.2h1.0M208.8 155.4h1.0M204.6 170.0h1.0M226.3 156.2h1.0M211.4 156.9h1.0M218.6 153.4h1.0M204.1 154.7h1.0M218.1 156.1h1.0M209.8 167.1h1.0M208.1 166.1h1.0M208.6 167.5h1.0M224.7 148.9h1.0M226.4 148.7h1.0M218.9 159.1h1.0M224.2 147.8h1.0M206.4 166.5h1.0M222.5 159.6h1.0M212.3 164.6h1.0M208.3 162.8h1.0M213.8 155.5h1.0M212.9 162.2h1.0M235.7 147.6h1.0M212.9 155.0h1.0M210.4 163.1h1.0M224.0 145.0h1.0M216.1 159.2h1.0M228.0 148.9h1.0M214.5 165.0h1.0M219.7 156.3h1.0M217.5 163.9h1.0M215.0 156.8h1.0M215.9 152.2h1.0M230.9 152.4h1.0M211.0 160.0h1.0M212.1 160.9h1.0M213.9 154.9h1.0M221.6 158.3h1.0M220.1 155.8h1.0M224.6 138.4h1.0M205.4 162.1h1.0M218.9 158.3h1.0M215.3 166.0h1.0M214.3 154.8h1.0M218.1 151.2h1.0M219.1 151.9h1.0M218.0 157.3h1.0M204.7 167.2h1.0M216.0 162.6h1.0M229.8 150.0h1.0M213.5 151.7h1.0M221.8 161.2h1.0M214.9 155.5h1.0M209.9 157.7h1.0M213.4 165.0h1.0M227.7 144.0h1.0M223.6 150.2h1.0M210.8 159.0h1.0M225.2 147.5h1.0M215.7 145.1h1.0M210.9 165.9h1.0M220.4 160.4h1.0M209.1 163.2h1.0M203.5 162.1h1.0M227.7 152.5h1.0M201.4 170.2h1.0M221.3 147.8h1.0M203.9 162.3h1.0M172.4 125.5h1.0M186.2 110.2h1.0M188.5 111.5h1.0M187.3 124.3h1.0M185.0 110.1h1.0M187.7 111.3h1.0M193.5 122.4h1.0M171.7 124.8h1.0M172.2 126.7h1.0M195.4 107.0h1.0M192.1 113.3h1.0M184.9 119.4h1.0M189.2 113.3h1.0M184.2 122.3h1.0M173.2 111.0h1.0M181.7 119.3h1.0M171.1 109.6h1.0M166.2 109.3h1.0M174.2 123.5h1.0M189.7 119.8h1.0M167.6 118.5h1.0M164.5 114.3h1.0M170.8 120.8h1.0M188.9 127.0h1.0M192.1 114.2h1.0M172.0 107.0h1.0M194.7 111.7h1.0M178.8 123.2h1.0M185.7 112.5h1.0M185.0 122.6h1.0M177.7 110.5h1.0M190.8 119.1h1.0M192.6 114.0h1.0M178.6 117.7h1.0M172.9 114.2h1.0M193.9 119.1h1.0M186.1 122.3h1.0M175.0 121.4h1.0M168.4 115.5h1.0M176.0 106.8h1.0M177.6 124.2h1.0M189.9 108.3h1.0M186.2 114.3h1.0M179.8 123.4h1.0M193.0 127.5h1.0M182.3 122.0h1.0M191.5 108.5h1.0M165.1 127.2h1.0M165.6 107.0h1.0M191.4 106.8h1.0M187.3 122.2h1.0M171.6 126.2h1.0M167.0 120.1h1.0M165.4 125.3h1.0M173.6 120.3h1.0M166.0 154.2h1.0M184.7 171.2h1.0M189.8 156.6h1.0M180.3 171.6h1.0M187.9 156.3h1.0M179.4 154.8h1.0M166.6 140.7h1.0M193.2 142.7h1.0M170.2 168.0h1.0M170.2 162.0h1.0M167.5 158.0h1.0M175.1 168.5h1.0M177.1 160.8h1.0M169.9 149.0h1.0M168.7 167.7h1.0M178.8 163.3h1.0M163.4 142.6h1.0M180.2 166.6h1.0M166.7 151.7h1.0M167.7 167.1h1.0M167.2 166.4h1.0M192.6 169.0h1.0M191.5 143.6h1.0M197.5 163.5h1.0M191.2 150.0h1.0M180.7 167.4h1.0M176.8 143.7h1.0M183.5 168.0h1.0M185.0 171.1h1.0M197.6 156.5h1.0M174.7 157.6h1.0M194.6 159.5h1.0M196.3 168.7h1.0M196.4 142.8h1.0M184.9 167.3h1.0M184.5 151.2h1.0M197.9 153.0h1.0M177.5 167.9h1.0M190.2 143.9h1.0M165.8 144.6h1.0M171.3 161.8h1.0M180.6 163.3h1.0M188.8 147.2h1.0M169.3 162.2h1.0M191.7 151.4h1.0M183.1 140.9h1.0M167.8 148.4h1.0M164.4 145.2h1.0M176.9 154.4h1.0M191.8 154.5h1.0M197.2 152.3h1.0M189.6 169.1h1.0M170.9 152.3h1.0M194.4 146.1h1.0M168.5 170.3h1.0M176.9 160.5h1.0M186.4 170.5h1.0M174.8 154.4h1.0M174.5 159.4h1.0M178.2 150.5h1.0M194.6 170.8h1.0M179.4 148.8h1.0M166.1 169.8h1.0M175.5 150.9h1.0M183.5 164.6h1.0M181.9 160.7h1.0M196.5 164.9h1.0M180.8 146.5h1.0M190.7 171.7h1.0M189.3 155.9h1.0M179.3 142.4h1.0M177.7 161.8h1.0M179.1 142.5h1.0M167.2 160.7h1.0M166.0 162.9h1.0M167.0 146.5h1.0M167.6 143.7h1.0M165.9 144.3h1.0M176.9 161.0h1.0M168.2 163.9h1.0M197.2 169.4h1.0M177.2 150.4h1.0M163.2 143.1h1.0M186.1 160.1h1.0M188.0 166.8h1.0M196.2 163.2h1.0M171.6 155.7h1.0M174.1 148.6h1.0M189.2 163.3h1.0M184.9 167.4h1.0M184.9 147.0h1.0M195.7 162.7h1.0M197.9 164.7h1.0M163.3 171.7h1.0M176.6 152.0h1.0M196.0 152.6h1.0M163.6 141.4h1.0M174.9 145.1h1.0M189.8 163.8h1.0M165.6 148.7h1.0M183.6 169.2h1.0M195.2 150.2h1.0M181.7 165.5h1.0M163.2 151.5h1.0M167.0 164.2h1.0M177.3 154.0h1.0M163.4 146.8h1.0M186.1 146.6h1.0M172.4 149.2h1.0M175.0 143.8h1.0M190.4 167.7h1.0M188.7 169.5h1.0M191.0 165.5h1.0M169.6 140.2h1.0M175.0 168.2h1.0M185.3 165.4h1.0M180.6 166.9h1.0M191.2 160.2h1.0M177.5 146.6h1.0M194.9 149.5h1.0M170.7 152.5h1.0M185.9 145.9h1.0M191.0 140.9h1.0M197.6 170.5h1.0M176.2 152.5h1.0M193.9 159.5h1.0M184.1 143.4h1.0M185.4 167.4h1.0M172.0 164.0h1.0M193.8 141.3h1.0M165.3 146.4h1.0M197.7 163.8h1.0M182.8 141.8h1.0M183.4 140.8h1.0M169.1 143.8h1.0M186.6 144.5h1.0M168.4 164.8h1.0M192.2 165.0h1.0M189.2 158.3h1.0M168.9 149.8h1.0M190.6 165.1h1.0M185.2 160.3h1.0M173.4 142.0h1.0M186.2 146.0h1.0M187.3 162.3h1.0M180.5 158.1h1.0M187.3 152.6h1.0M190.7 157.0h1.0M194.2 147.8h1.0M192.1 158.8h1.0M166.8 144.4h1.0M193.1 171.6h1.0M196.2 166.4h1.0M179.9 155.9h1.0M194.7 171.3h1.0M170.8 161.7h1.0M164.4 158.5h1.0M178.6 160.7h1.0M167.2 162.5h1.0M167.6 171.7h1.0M229.7 134.4h1.0M206.2 109.4h1.0M198.5 128.3h1.0M235.6 141.6h1.0M227.7 169.0h1.0M221.1 120.1h1.0M217.0 110.1h1.0M236.8 155.5h1.0M197.8 145.8h1.0M202.7 127.8h1.0M209.6 130.6h1.0M238.9 126.3h1.0M225.9 149.1h1.0M221.8 162.9h1.0M210.7 124.4h1.0M202.8 165.9h1.0M196.7 132.5h1.0M202.1 137.4h1.0M203.5 121.4h1.0M218.0 109.9h1.0M211.7 117.7h1.0M238.1 121.1h1.0M235.6 133.8h1.0M219.9 137.6h1.0M203.1 161.4h1.0M209.6 128.4h1.0M197.1 156.1h1.0M224.5 121.3h1.0M212.6 136.5h1.0M235.8 109.2h1.0M209.6 164.7h1.0M232.6 128.0h1.0M212.9 147.6h1.0M224.1 142.2h1.0M211.3 137.2h1.0M230.8 120.3h1.0M205.6 160.0h1.0M202.9 136.1h1.0M198.2 113.0h1.0M212.4 110.8h1.0M227.6 138.3h1.0M215.9 142.4h1.0M232.3 122.8h1.0M221.2 120.0h1.0M219.0 160.5h1.0M217.4 150.5h1.0M197.7 113.8h1.0M221.4 158.9h1.0M204.2 107.9h1.0M199.6 161.3h1.0M200.4 160.9h1.0M203.1 112.4h1.0M222.7 171.4h1.0M208.3 165.2h1.0M208.7 116.2h1.0M213.8 148.4h1.0M237.1 135.6h1.0M207.1 113.8h1.0M208.9 118.0h1.0M206.8 118.0h1.0M209.5 149.7h1.0M208.8 142.9h1.0M231.7 170.0h1.0M238.1 124.8h1.0M212.9 136.7h1.0M233.3 129.3h1.0M200.6 130.0h1.0M216.7 143.7h1.0M231.4 157.4h1.0M199.9 150.5h1.0M238.9 111.8h1.0M213.2 122.8h1.0M217.5 146.6h1.0M236.7 155.8h1.0M235.6 163.0h1.0M205.0 128.6h1.0M215.6 135.2h1.0M227.6 107.3h1.0M215.8 139.3h1.0M236.4 124.7h1.0M204.6 139.8h1.0M237.9 144.8h1.0M222.7 115.6h1.0M222.4 109.1h1.0M225.4 152.5h1.0M207.4 153.1h1.0M215.1 171.2h1.0M205.4 138.3h1.0M230.7 108.6h1.0M210.2 109.2h1.0M202.2 170.0h1.0M234.3 154.0h1.0M210.8 115.2h1.0M236.9 132.8h1.0M215.2 117.3h1.0M224.0 156.8h1.0M229.8 153.8h1.0M218.2 167.0h1.0M236.6 148.7h1.0M230.8 131.5h1.0M234.3 166.0h1.0M218.9 130.1h1.0M201.6 154.0h1.0M203.4 118.9h1.0M202.3 122.8h1.0M219.0 145.1h1.0M236.9 124.0h1.0M219.8 162.5h1.0M214.5 139.1h1.0M200.8 167.1h1.0M212.1 144.9h1.0M203.9 143.2h1.0M215.6 138.5h1.0M215.7 117.2h1.0M236.2 127.8h1.0M213.0 164.9h1.0M234.0 150.1h1.0M197.8 156.4h1.0M210.9 132.3h1.0M227.0 117.8h1.0M189.2 136.5h1.0M176.8 137.2h1.0M188.7 128.6h1.0M165.2 138.3h1.0M174.6 135.2h1.0M184.5 131.7h1.0M193.7 135.6h1.0M169.6 129.4h1.0M195.4 138.6h1.0M185.3 127.1h1.0M169.6 129.7h1.0M163.5 136.1h1.0M193.6 131.9h1.0M185.3 138.4h1.0M186.8 137.6h1.0M176.6 135.5h1.0M165.9 131.0h1.0M178.8 132.1h1.0M184.2 130.6h1.0M172.2 130.4h1.0M194.7 126.2h1.0M188.5 129.6h1.0M163.6 135.7h1.0M172.7 133.6h1.0M192.7 130.6h1.0" stroke="#000" stroke-opacity="0.68" stroke-width="1" fill="none"/>
<text class="tk" x="162.3" y="180.0" font-size="4.3" text-anchor="middle" fill="#111">10<tspan dy="-1.8" font-size="3.2">0</tspan></text>
<text class="tk" transform="translate(158.0 172.5) rotate(-90)" font-size="4.3" text-anchor="middle" fill="#111">10<tspan dy="-1.8" font-size="3.2">0</tspan></text>
<text class="tk" x="181.8" y="180.0" font-size="4.3" text-anchor="middle" fill="#111">10<tspan dy="-1.8" font-size="3.2">1</tspan></text>
<text class="tk" transform="translate(158.0 155.0) rotate(-90)" font-size="4.3" text-anchor="middle" fill="#111">10<tspan dy="-1.8" font-size="3.2">1</tspan></text>
<text class="tk" x="201.3" y="180.0" font-size="4.3" text-anchor="middle" fill="#111">10<tspan dy="-1.8" font-size="3.2">2</tspan></text>
<text class="tk" transform="translate(158.0 137.5) rotate(-90)" font-size="4.3" text-anchor="middle" fill="#111">10<tspan dy="-1.8" font-size="3.2">2</tspan></text>
<text class="tk" x="220.8" y="180.0" font-size="4.3" text-anchor="middle" fill="#111">10<tspan dy="-1.8" font-size="3.2">3</tspan></text>
<text class="tk" transform="translate(158.0 120.0) rotate(-90)" font-size="4.3" text-anchor="middle" fill="#111">10<tspan dy="-1.8" font-size="3.2">3</tspan></text>
<text class="tk" x="240.3" y="180.0" font-size="4.3" text-anchor="middle" fill="#111">10<tspan dy="-1.8" font-size="3.2">4</tspan></text>
<text class="tk" transform="translate(158.0 102.5) rotate(-90)" font-size="4.3" text-anchor="middle" fill="#111">10<tspan dy="-1.8" font-size="3.2">4</tspan></text>
<text transform="translate(23.6 94.5) rotate(-90)" font-size="11.6" text-anchor="middle" fill="#111">CD4-PE</text>
<text transform="translate(145 96) rotate(-90)" font-size="11.6" text-anchor="middle" fill="#111">CD8-PE</text>
<text x="140" y="200.6" font-size="11.45" text-anchor="middle" fill="#111">hIgG1-Fc-Cy5</text>
<text x="2.3" y="17.9" class="pl" font-size="25.6" font-weight="bold" fill="#000">A</text>
<text x="262.2" y="18.8" class="pl" font-size="25.6" font-weight="bold" fill="#000">B</text>
<text x="0.4" y="225.8" class="pl" font-size="25.6" font-weight="bold" fill="#000">C</text>
<text x="270.2" y="225.1" class="pl" font-size="25.6" font-weight="bold" fill="#000">D</text>
<text x="310.2" y="10.1" font-size="10.4" text-anchor="end" fill="#111">1000</text>
<text x="310.2" y="54.1" font-size="10.4" text-anchor="end" fill="#111">100</text>
<text x="310.2" y="98.2" font-size="10.4" text-anchor="end" fill="#111">10</text>
<text x="310.2" y="142.3" font-size="10.4" text-anchor="end" fill="#111">1</text>
<text x="310.2" y="186.4" font-size="10.4" text-anchor="end" fill="#111">0.1</text>
<text x="340.3" y="165" font-size="11.1" text-anchor="middle" fill="#111">0</text>
<text x="387.9" y="165" font-size="11.1" text-anchor="middle" fill="#111">7</text>
<text x="435.7" y="165" font-size="11.1" text-anchor="middle" fill="#111">14</text>
<text x="483.2" y="165" font-size="11.1" text-anchor="middle" fill="#111">21</text>
<text x="408" y="182.6" font-size="11.35" text-anchor="middle" fill="#111">Days of culture</text>
<text transform="translate(279.8 93) rotate(-90)" font-size="11.2" text-anchor="middle" fill="#111">Cell count x 10<tspan dy="-5.4" font-size="8">6</tspan></text>
<rect x="335.6" y="123.7" width="7.6" height="7.6" fill="#000"/>
<rect x="383.2" y="94.7" width="7.6" height="7.6" fill="#000"/>
<rect x="431.0" y="71.9" width="7.6" height="7.6" fill="#000"/>
<rect x="478.5" y="37.3" width="7.6" height="7.6" fill="#000"/>
<path d="M339.4 124.7l2.5 4.2h-5z" fill="#000"/>
<path d="M387.0 114.7l2.5 4.2h-5z" fill="#000"/>
<path d="M434.8 118.7l2.5 4.2h-5z" fill="#000"/>
<path d="M482.3 118.3l2.5 4.2h-5z" fill="#000"/>
<rect x="337.6" y="126.8" width="3.6" height="3.6" rx="0.6" fill="#000"/>
<rect x="385.2" y="129.6" width="3.6" height="3.6" rx="0.6" fill="#000"/>
<rect x="433.0" y="135.8" width="3.6" height="3.6" rx="0.6" fill="#000"/>
<rect x="480.5" y="143.7" width="3.6" height="3.6" rx="0.6" fill="#000"/>
<rect x="342.9" y="12.4" width="3.4" height="3.4" rx="0.6" fill="#000"/>
<path d="M344.6 26.2l2.4 4h-4.8z" fill="#000"/>
<rect x="340.9" y="39.5" width="7.4" height="7.4" fill="#000"/>
<text x="361.3" y="15.8" font-size="11.25" fill="#111">GFP</text>
<text x="361.3" y="32.7" font-size="11.25" fill="#111">CAR46/ζ</text>
<text x="361.3" y="49.2" font-size="11.25" fill="#111">CAR46/28ζ</text>
<text x="41.9" y="244.9" font-size="11" text-anchor="end" fill="#111">7000</text>
<text x="43.4" y="291.1" font-size="11" text-anchor="end" fill="#111">5000</text>
<text x="44.3" y="337.2" font-size="11" text-anchor="end" fill="#111">3000</text>
<text x="43.4" y="383.3" font-size="11" text-anchor="end" fill="#111">1000</text>
<g stroke="#000" stroke-width="0.9">
<rect x="75.6" y="384.3" width="15.9" height="18.4" fill="#858585"/>
<rect x="91.5" y="305.8" width="15.9" height="96.9" fill="#000"/>
<rect x="162" y="346.4" width="16" height="56.3" fill="#000"/>
<rect x="231.8" y="326.5" width="16.2" height="76.2" fill="#000"/>
<path d="M60 401.7H73.5M130 401.8H143.5l1-.3h13.5M200.5 401.8H214l1-.3h13" stroke="#000" stroke-width="1.5" fill="none"/>
</g>
<text x="83.5" y="422.3" font-size="11" text-anchor="middle" fill="#111">IFNγ</text>
<text x="158" y="422.3" font-size="11" text-anchor="middle" fill="#111">TNFα</text>
<text x="221" y="422.3" font-size="11" text-anchor="middle" fill="#111">IL-2</text>
<text transform="translate(12.2 315.5) rotate(-90)" font-size="11.4" text-anchor="middle" fill="#111">pg/mL x10<tspan dy="-5.2" font-size="8">6</tspan><tspan dy="5.2" font-size="11.4"> cells</tspan></text>
<text x="308.2" y="222.6" font-size="9.2" text-anchor="end" fill="#111" textLength="12.6" lengthAdjust="spacingAndGlyphs">80</text>
<text x="308.2" y="268.6" font-size="9.2" text-anchor="end" fill="#111" textLength="12.6" lengthAdjust="spacingAndGlyphs">60</text>
<text x="308.2" y="314.7" font-size="9.2" text-anchor="end" fill="#111" textLength="12.6" lengthAdjust="spacingAndGlyphs">40</text>
<text x="308.2" y="360.7" font-size="9.2" text-anchor="end" fill="#111" textLength="12.6" lengthAdjust="spacingAndGlyphs">20</text>
<text x="308.2" y="406.7" font-size="9.2" text-anchor="end" fill="#111" textLength="6.3" lengthAdjust="spacingAndGlyphs">0</text>
<g stroke="#000" stroke-width="0.9">
<rect x="331.6" y="389.8" width="19.3" height="13.7" fill="#fff"/>
<rect x="350.9" y="275.7" width="19.1" height="127.8" fill="#000"/>
<rect x="397.8" y="397.1" width="19.8" height="6.4" fill="#fff"/>
<rect x="417.7" y="256.5" width="19.3" height="147.0" fill="#000"/>
<rect x="464.8" y="386.0" width="19.6" height="17.5" fill="#fff"/>
<rect x="484.4" y="400.4" width="19.4" height="3.1" fill="#000"/>
</g>
<text font-size="11" text-anchor="middle" fill="#111"><tspan x="351.0" y="423.3">Autologous</tspan><tspan x="351.0" y="436.3">κ+B-CLL</tspan><tspan x="351.0" y="449.3">cells</tspan></text>
<text font-size="11" text-anchor="middle" fill="#111"><tspan x="423.8" y="423.3">Allogeneic</tspan><tspan x="423.8" y="436.3">κ+B-CLL</tspan><tspan x="423.8" y="449.3">cells</tspan></text>
<text font-size="11" text-anchor="middle" fill="#111"><tspan x="489.7" y="423.3">Allogeneic</tspan><tspan x="489.7" y="436.3">λ+B-CLL</tspan><tspan x="489.7" y="449.3">cells</tspan></text>
<text transform="translate(286.2 310.4) rotate(-90)" font-size="10.3" letter-spacing="-0.35" text-anchor="middle" fill="#111">% specific lysis</text>
</g>
<g filter="url(#soft2)">
<path d="M45.0 17.5H121.0V84.0" stroke="#333" stroke-width="0.8" fill="none"/>
<path d="M45.0 17.5V84.0H121.0" stroke="#000" stroke-width="1" fill="none"/>
<path d="M76.2 17.5V84.0M45.0 49.8H121.0" stroke="#111" stroke-width="0.9" fill="none"/>
<path d="M45.00 84.0v2.4M45.0 84.00h-2.4M50.72 84.0v1.3M45.0 79.00h-1.3M54.07 84.0v1.3M45.0 76.07h-1.3M56.44 84.0v1.3M45.0 73.99h-1.3M58.28 84.0v1.3M45.0 72.38h-1.3M59.78 84.0v1.3M45.0 71.06h-1.3M61.06 84.0v1.3M45.0 69.95h-1.3M62.16 84.0v1.3M45.0 68.99h-1.3M63.13 84.0v1.3M45.0 68.14h-1.3M64.00 84.0v2.4M45.0 67.38h-2.4M69.72 84.0v1.3M45.0 62.37h-1.3M73.07 84.0v1.3M45.0 59.44h-1.3M75.44 84.0v1.3M45.0 57.37h-1.3M77.28 84.0v1.3M45.0 55.75h-1.3M78.78 84.0v1.3M45.0 54.44h-1.3M80.06 84.0v1.3M45.0 53.33h-1.3M81.16 84.0v1.3M45.0 52.36h-1.3M82.13 84.0v1.3M45.0 51.51h-1.3M83.00 84.0v2.4M45.0 50.75h-2.4M88.72 84.0v1.3M45.0 45.75h-1.3M92.07 84.0v1.3M45.0 42.82h-1.3M94.44 84.0v1.3M45.0 40.74h-1.3M96.28 84.0v1.3M45.0 39.13h-1.3M97.78 84.0v1.3M45.0 37.81h-1.3M99.06 84.0v1.3M45.0 36.70h-1.3M100.16 84.0v1.3M45.0 35.74h-1.3M101.13 84.0v1.3M45.0 34.89h-1.3M102.00 84.0v2.4M45.0 34.12h-2.4M107.72 84.0v1.3M45.0 29.12h-1.3M111.07 84.0v1.3M45.0 26.19h-1.3M113.44 84.0v1.3M45.0 24.12h-1.3M115.28 84.0v1.3M45.0 22.50h-1.3M116.78 84.0v1.3M45.0 21.19h-1.3M118.06 84.0v1.3M45.0 20.08h-1.3M119.16 84.0v1.3M45.0 19.11h-1.3M120.13 84.0v1.3M45.0 18.26h-1.3M121.00 84.0v2.4M45.0 17.50h-2.4" stroke="#222" stroke-width="0.5" fill="none"/>
<path d="M161.5 17.7H240.0V85.2" stroke="#333" stroke-width="0.8" fill="none"/>
<path d="M161.5 17.7V85.2H240.0" stroke="#000" stroke-width="1" fill="none"/>
<path d="M196.6 17.7V85.2M161.5 51.2H240.0" stroke="#111" stroke-width="0.9" fill="none"/>
<path d="M161.50 85.2v2.4M161.5 85.20h-2.4M167.41 85.2v1.3M161.5 80.12h-1.3M170.86 85.2v1.3M161.5 77.15h-1.3M173.32 85.2v1.3M161.5 75.04h-1.3M175.22 85.2v1.3M161.5 73.40h-1.3M176.77 85.2v1.3M161.5 72.07h-1.3M178.09 85.2v1.3M161.5 70.94h-1.3M179.22 85.2v1.3M161.5 69.96h-1.3M180.23 85.2v1.3M161.5 69.10h-1.3M181.12 85.2v2.4M161.5 68.33h-2.4M187.03 85.2v1.3M161.5 63.25h-1.3M190.49 85.2v1.3M161.5 60.27h-1.3M192.94 85.2v1.3M161.5 58.17h-1.3M194.84 85.2v1.3M161.5 56.53h-1.3M196.40 85.2v1.3M161.5 55.19h-1.3M197.71 85.2v1.3M161.5 54.06h-1.3M198.85 85.2v1.3M161.5 53.09h-1.3M199.85 85.2v1.3M161.5 52.22h-1.3M200.75 85.2v2.4M161.5 51.45h-2.4M206.66 85.2v1.3M161.5 46.37h-1.3M210.11 85.2v1.3M161.5 43.40h-1.3M212.57 85.2v1.3M161.5 41.29h-1.3M214.47 85.2v1.3M161.5 39.65h-1.3M216.02 85.2v1.3M161.5 38.32h-1.3M217.34 85.2v1.3M161.5 37.19h-1.3M218.47 85.2v1.3M161.5 36.21h-1.3M219.48 85.2v1.3M161.5 35.35h-1.3M220.38 85.2v2.4M161.5 34.58h-2.4M226.28 85.2v1.3M161.5 29.50h-1.3M229.74 85.2v1.3M161.5 26.52h-1.3M232.19 85.2v1.3M161.5 24.42h-1.3M234.09 85.2v1.3M161.5 22.78h-1.3M235.65 85.2v1.3M161.5 21.44h-1.3M236.96 85.2v1.3M161.5 20.31h-1.3M238.10 85.2v1.3M161.5 19.34h-1.3M239.10 85.2v1.3M161.5 18.47h-1.3M240.00 85.2v2.4M161.5 17.70h-2.4" stroke="#222" stroke-width="0.5" fill="none"/>
<path d="M44.0 102.8H120.5V172.4" stroke="#333" stroke-width="0.8" fill="none"/>
<path d="M44.0 102.8V172.4H120.5" stroke="#000" stroke-width="1" fill="none"/>
<path d="M75.6 102.8V172.4M44.0 136.6H120.5" stroke="#111" stroke-width="0.9" fill="none"/>
<path d="M44.00 172.4v2.4M44.0 172.40h-2.4M49.76 172.4v1.3M44.0 167.16h-1.3M53.12 172.4v1.3M44.0 164.10h-1.3M55.51 172.4v1.3M44.0 161.92h-1.3M57.37 172.4v1.3M44.0 160.24h-1.3M58.88 172.4v1.3M44.0 158.86h-1.3M60.16 172.4v1.3M44.0 157.70h-1.3M61.27 172.4v1.3M44.0 156.69h-1.3M62.25 172.4v1.3M44.0 155.80h-1.3M63.12 172.4v2.4M44.0 155.00h-2.4M68.88 172.4v1.3M44.0 149.76h-1.3M72.25 172.4v1.3M44.0 146.70h-1.3M74.64 172.4v1.3M44.0 144.52h-1.3M76.49 172.4v1.3M44.0 142.84h-1.3M78.01 172.4v1.3M44.0 141.46h-1.3M79.29 172.4v1.3M44.0 140.30h-1.3M80.40 172.4v1.3M44.0 139.29h-1.3M81.37 172.4v1.3M44.0 138.40h-1.3M82.25 172.4v2.4M44.0 137.60h-2.4M88.01 172.4v1.3M44.0 132.36h-1.3M91.37 172.4v1.3M44.0 129.30h-1.3M93.76 172.4v1.3M44.0 127.12h-1.3M95.62 172.4v1.3M44.0 125.44h-1.3M97.13 172.4v1.3M44.0 124.06h-1.3M98.41 172.4v1.3M44.0 122.90h-1.3M99.52 172.4v1.3M44.0 121.89h-1.3M100.50 172.4v1.3M44.0 121.00h-1.3M101.38 172.4v2.4M44.0 120.20h-2.4M107.13 172.4v1.3M44.0 114.96h-1.3M110.50 172.4v1.3M44.0 111.90h-1.3M112.89 172.4v1.3M44.0 109.72h-1.3M114.74 172.4v1.3M44.0 108.04h-1.3M116.26 172.4v1.3M44.0 106.66h-1.3M117.54 172.4v1.3M44.0 105.50h-1.3M118.65 172.4v1.3M44.0 104.49h-1.3M119.62 172.4v1.3M44.0 103.60h-1.3M120.50 172.4v2.4M44.0 102.80h-2.4" stroke="#222" stroke-width="0.5" fill="none"/>
<path d="M162.0 102.8H240.0V172.8" stroke="#333" stroke-width="0.8" fill="none"/>
<path d="M162.0 102.8V172.8H240.0" stroke="#000" stroke-width="1" fill="none"/>
<path d="M196.6 102.8V172.8M162.0 137.0H240.0" stroke="#111" stroke-width="0.9" fill="none"/>
<path d="M162.00 172.8v2.4M162.0 172.80h-2.4M167.87 172.8v1.3M162.0 167.53h-1.3M171.30 172.8v1.3M162.0 164.45h-1.3M173.74 172.8v1.3M162.0 162.26h-1.3M175.63 172.8v1.3M162.0 160.57h-1.3M177.17 172.8v1.3M162.0 159.18h-1.3M178.48 172.8v1.3M162.0 158.01h-1.3M179.61 172.8v1.3M162.0 157.00h-1.3M180.61 172.8v1.3M162.0 156.10h-1.3M181.50 172.8v2.4M162.0 155.30h-2.4M187.37 172.8v1.3M162.0 150.03h-1.3M190.80 172.8v1.3M162.0 146.95h-1.3M193.24 172.8v1.3M162.0 144.76h-1.3M195.13 172.8v1.3M162.0 143.07h-1.3M196.67 172.8v1.3M162.0 141.68h-1.3M197.98 172.8v1.3M162.0 140.51h-1.3M199.11 172.8v1.3M162.0 139.50h-1.3M200.11 172.8v1.3M162.0 138.60h-1.3M201.00 172.8v2.4M162.0 137.80h-2.4M206.87 172.8v1.3M162.0 132.53h-1.3M210.30 172.8v1.3M162.0 129.45h-1.3M212.74 172.8v1.3M162.0 127.26h-1.3M214.63 172.8v1.3M162.0 125.57h-1.3M216.17 172.8v1.3M162.0 124.18h-1.3M217.48 172.8v1.3M162.0 123.01h-1.3M218.61 172.8v1.3M162.0 122.00h-1.3M219.61 172.8v1.3M162.0 121.10h-1.3M220.50 172.8v2.4M162.0 120.30h-2.4M226.37 172.8v1.3M162.0 115.03h-1.3M229.80 172.8v1.3M162.0 111.95h-1.3M232.24 172.8v1.3M162.0 109.76h-1.3M234.13 172.8v1.3M162.0 108.07h-1.3M235.67 172.8v1.3M162.0 106.68h-1.3M236.98 172.8v1.3M162.0 105.51h-1.3M238.11 172.8v1.3M162.0 104.50h-1.3M239.11 172.8v1.3M162.0 103.60h-1.3M240.00 172.8v2.4M162.0 102.80h-2.4" stroke="#222" stroke-width="0.5" fill="none"/>
<g stroke="#111" stroke-width="0.9"><path d="M19.5 39.5V69.5M19.5 121V151M140.8 41V71M140.8 122V151M65.8 196.5H96.3M182.5 196.5H213"/></g>
<g stroke="#111" stroke-width="0.9" fill="none">
<polyline points="339.4,127.5 387.0,98.5 434.8,75.7 482.3,41.1"/>
<polyline points="339.4,127.2 387.0,117.2 434.8,121.2 482.3,120.8"/>
<polyline points="339.4,128.6 387.0,131.4 434.8,137.6 482.3,145.5"/>
<path d="M339.4 115.5V156.5M387.0 90.3V117.2M387.0 123.8V143.6M434.8 65.0V97.8M434.8 107.4V137.6M482.3 24.0V41.0M482.3 100.5V121.0M482.3 128.8V145.5M337.0 115.5h4.8M337.0 118.3h4.8M337.0 120.9h4.8M337.0 141.5h4.8M337.0 149.2h4.8M337.0 156.5h4.8M384.6 90.3h4.8M384.6 109.8h4.8M384.6 123.8h4.8M384.6 143.6h4.8M432.4 65.0h4.8M432.4 97.8h4.8M432.4 107.4h4.8M479.9 24.0h4.8M479.9 100.5h4.8M479.9 128.8h4.8" stroke-width="0.8"/>
</g>
<path d="M337 14.1H352.4M337 28.6H352.4M337 43.2H352.4" stroke="#000" stroke-width="0.95"/>
<path d="M84 384.3V370.5M81.2 370.5h5.6 M99.8 305.8V268M96.6 268h6.4 M169.9 346.4V297.7M166.7 297.7h6.4 M239.7 326.5V292.4M236.5 292.4h6.4" fill="none" stroke="#111" stroke-width="0.85"/>
<path d="M340.6 389.7V372.2M337.8 372.2h6 M360.2 275.7V221.3M357 221.3h6.4 M407.7 397.1V394.4M405.3 394.4h5 M426.9 256.5V225M423.9 225h6 M474.3 386V373.3M471.3 373.3h6.2 M493.9 400.4V380.2M490.9 380.2h6" fill="none" stroke="#111" stroke-width="0.85"/>
</g>
</svg>
</body></html>
